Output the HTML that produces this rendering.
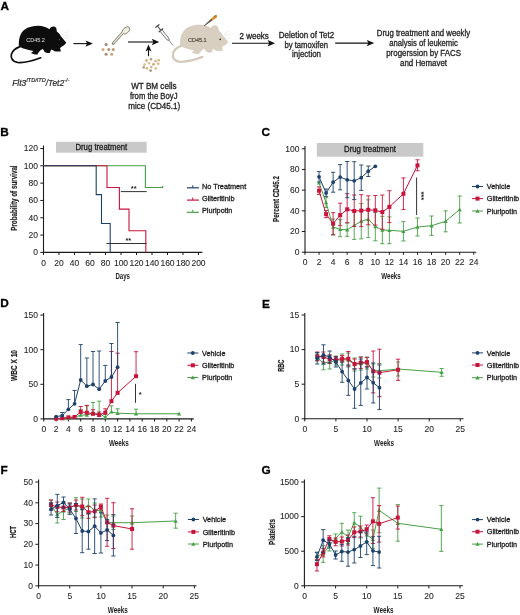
<!DOCTYPE html>
<html><head><meta charset="utf-8"><style>
html,body{margin:0;padding:0;background:#fff;}
svg{display:block;font-family:"Liberation Sans", sans-serif;will-change:transform;filter:blur(0.35px);}
</style></head><body>
<svg width="520" height="615" viewBox="0 0 520 615">
<rect width="520" height="615" fill="#fff"/>
<text x="0.6" y="9.8" font-size="11.8" fill="#000" font-weight="bold" stroke="#000" stroke-width="0.3">A</text>
<text x="0.2" y="136.2" font-size="11.8" fill="#000" font-weight="bold" stroke="#000" stroke-width="0.3">B</text>
<text x="261.4" y="136.4" font-size="11.8" fill="#000" font-weight="bold" stroke="#000" stroke-width="0.3">C</text>
<text x="0.2" y="307.3" font-size="11.8" fill="#000" font-weight="bold" stroke="#000" stroke-width="0.3">D</text>
<text x="262.1" y="307.5" font-size="11.8" fill="#000" font-weight="bold" stroke="#000" stroke-width="0.3">E</text>
<text x="0.5" y="473.7" font-size="11.8" fill="#000" font-weight="bold" stroke="#000" stroke-width="0.3">F</text>
<text x="261.4" y="474.1" font-size="11.8" fill="#000" font-weight="bold" stroke="#000" stroke-width="0.3">G</text>
<rect x="56" y="141.8" width="90.7" height="10.9" fill="#c9c9c9"/>
<text x="101.3" y="149.6" font-size="8.3" text-anchor="middle" fill="#1e1e1e" font-weight="normal" textLength="51.8" lengthAdjust="spacingAndGlyphs" stroke="#1e1e1e" stroke-width="0.3"  style="">Drug treatment</text>
<line x1="43.5" y1="145.5" x2="43.5" y2="252.9" stroke="#1a1a1a" stroke-width="1.1" />
<line x1="40.3" y1="252.4" x2="43.5" y2="252.4" stroke="#1a1a1a" stroke-width="1" />
<text x="37.9" y="255.20000000000002" font-size="8.5" text-anchor="end" fill="#1e1e1e" font-weight="normal" stroke="#1e1e1e" stroke-width="0.08"  style="">0</text>
<line x1="40.3" y1="235.084" x2="43.5" y2="235.084" stroke="#1a1a1a" stroke-width="1" />
<text x="37.9" y="237.88400000000001" font-size="8.5" text-anchor="end" fill="#1e1e1e" font-weight="normal" stroke="#1e1e1e" stroke-width="0.08"  style="">20</text>
<line x1="40.3" y1="217.768" x2="43.5" y2="217.768" stroke="#1a1a1a" stroke-width="1" />
<text x="37.9" y="220.568" font-size="8.5" text-anchor="end" fill="#1e1e1e" font-weight="normal" stroke="#1e1e1e" stroke-width="0.08"  style="">40</text>
<line x1="40.3" y1="200.452" x2="43.5" y2="200.452" stroke="#1a1a1a" stroke-width="1" />
<text x="37.9" y="203.252" font-size="8.5" text-anchor="end" fill="#1e1e1e" font-weight="normal" stroke="#1e1e1e" stroke-width="0.08"  style="">60</text>
<line x1="40.3" y1="183.13600000000002" x2="43.5" y2="183.13600000000002" stroke="#1a1a1a" stroke-width="1" />
<text x="37.9" y="185.93600000000004" font-size="8.5" text-anchor="end" fill="#1e1e1e" font-weight="normal" stroke="#1e1e1e" stroke-width="0.08"  style="">80</text>
<line x1="40.3" y1="165.82" x2="43.5" y2="165.82" stroke="#1a1a1a" stroke-width="1" />
<text x="37.9" y="168.62" font-size="8.5" text-anchor="end" fill="#1e1e1e" font-weight="normal" stroke="#1e1e1e" stroke-width="0.08"  style="">100</text>
<line x1="40.3" y1="148.50400000000002" x2="43.5" y2="148.50400000000002" stroke="#1a1a1a" stroke-width="1" />
<text x="37.9" y="151.30400000000003" font-size="8.5" text-anchor="end" fill="#1e1e1e" font-weight="normal" stroke="#1e1e1e" stroke-width="0.08"  style="">120</text>
<line x1="43.0" y1="252.4" x2="202.4" y2="252.4" stroke="#1a1a1a" stroke-width="1.1" />
<line x1="43.5" y1="252.4" x2="43.5" y2="255.0" stroke="#1a1a1a" stroke-width="1" />
<text x="43.5" y="265.6" font-size="8.5" text-anchor="middle" fill="#1e1e1e" font-weight="normal" stroke="#1e1e1e" stroke-width="0.08"  style="">0</text>
<line x1="59.0" y1="252.4" x2="59.0" y2="255.0" stroke="#1a1a1a" stroke-width="1" />
<text x="59.0" y="265.6" font-size="8.5" text-anchor="middle" fill="#1e1e1e" font-weight="normal" stroke="#1e1e1e" stroke-width="0.08"  style="">20</text>
<line x1="74.5" y1="252.4" x2="74.5" y2="255.0" stroke="#1a1a1a" stroke-width="1" />
<text x="74.5" y="265.6" font-size="8.5" text-anchor="middle" fill="#1e1e1e" font-weight="normal" stroke="#1e1e1e" stroke-width="0.08"  style="">40</text>
<line x1="90.0" y1="252.4" x2="90.0" y2="255.0" stroke="#1a1a1a" stroke-width="1" />
<text x="90.0" y="265.6" font-size="8.5" text-anchor="middle" fill="#1e1e1e" font-weight="normal" stroke="#1e1e1e" stroke-width="0.08"  style="">60</text>
<line x1="105.5" y1="252.4" x2="105.5" y2="255.0" stroke="#1a1a1a" stroke-width="1" />
<text x="105.5" y="265.6" font-size="8.5" text-anchor="middle" fill="#1e1e1e" font-weight="normal" stroke="#1e1e1e" stroke-width="0.08"  style="">80</text>
<line x1="121.0" y1="252.4" x2="121.0" y2="255.0" stroke="#1a1a1a" stroke-width="1" />
<text x="121.0" y="265.6" font-size="8.5" text-anchor="middle" fill="#1e1e1e" font-weight="normal" stroke="#1e1e1e" stroke-width="0.08"  style="">100</text>
<line x1="136.5" y1="252.4" x2="136.5" y2="255.0" stroke="#1a1a1a" stroke-width="1" />
<text x="136.5" y="265.6" font-size="8.5" text-anchor="middle" fill="#1e1e1e" font-weight="normal" stroke="#1e1e1e" stroke-width="0.08"  style="">120</text>
<line x1="152.0" y1="252.4" x2="152.0" y2="255.0" stroke="#1a1a1a" stroke-width="1" />
<text x="152.0" y="265.6" font-size="8.5" text-anchor="middle" fill="#1e1e1e" font-weight="normal" stroke="#1e1e1e" stroke-width="0.08"  style="">140</text>
<line x1="167.5" y1="252.4" x2="167.5" y2="255.0" stroke="#1a1a1a" stroke-width="1" />
<text x="167.5" y="265.6" font-size="8.5" text-anchor="middle" fill="#1e1e1e" font-weight="normal" stroke="#1e1e1e" stroke-width="0.08"  style="">160</text>
<line x1="183.0" y1="252.4" x2="183.0" y2="255.0" stroke="#1a1a1a" stroke-width="1" />
<text x="183.0" y="265.6" font-size="8.5" text-anchor="middle" fill="#1e1e1e" font-weight="normal" stroke="#1e1e1e" stroke-width="0.08"  style="">180</text>
<line x1="198.5" y1="252.4" x2="198.5" y2="255.0" stroke="#1a1a1a" stroke-width="1" />
<text x="198.5" y="265.6" font-size="8.5" text-anchor="middle" fill="#1e1e1e" font-weight="normal" stroke="#1e1e1e" stroke-width="0.08"  style="">200</text>
<text transform="translate(16.7,198.1) rotate(-90)" x="0" y="0" font-size="9.3" text-anchor="middle" fill="#1e1e1e" font-weight="bold" stroke="#1e1e1e" stroke-width="0.2" textLength="65.4" lengthAdjust="spacingAndGlyphs">Probability of survival</text>
<text x="122.7" y="278.6" font-size="9.3" text-anchor="middle" fill="#1e1e1e" font-weight="bold" textLength="14.6" lengthAdjust="spacingAndGlyphs"  style="">Days</text>
<polyline points="43.50,165.82 145.40,165.82 145.40,187.47 162.70,187.47 162.70,186.06" fill="none" stroke="#46a046" stroke-width="1.1" stroke-linejoin="miter"/>
<polyline points="43.50,165.82 107.00,165.82 107.00,187.47 119.40,187.47 119.40,209.11 129.00,209.11 129.00,230.75 145.80,230.75 145.80,252.40" fill="none" stroke="#c8143c" stroke-width="1.1" stroke-linejoin="miter"/>
<polyline points="43.50,165.82 96.20,165.82 96.20,194.65 101.50,194.65 101.50,223.57 110.20,223.57 110.20,252.40" fill="none" stroke="#1d426c" stroke-width="1.1" stroke-linejoin="miter"/>
<line x1="120.8" y1="191.6" x2="146.7" y2="191.6" stroke="#333" stroke-width="1" />
<text x="133.7" y="191.0" font-size="7.5" text-anchor="middle" fill="#1e1e1e" font-weight="bold"  style="">**</text>
<line x1="106.5" y1="243.5" x2="146.7" y2="243.5" stroke="#333" stroke-width="1" />
<text x="128.3" y="243.2" font-size="7.5" text-anchor="middle" fill="#1e1e1e" font-weight="bold"  style="">**</text>
<line x1="187" y1="187.8" x2="198.9" y2="187.8" stroke="#1d426c" stroke-width="1.2" />
<line x1="192.8" y1="187.8" x2="192.8" y2="185.20000000000002" stroke="#1d426c" stroke-width="1" />
<text x="202" y="188.9" font-size="7.3" text-anchor="start" fill="#1e1e1e" font-weight="normal" stroke="#1e1e1e" stroke-width="0.3"  style="">No Treatment</text>
<line x1="187" y1="200.1" x2="198.9" y2="200.1" stroke="#c8143c" stroke-width="1.2" />
<line x1="192.8" y1="200.1" x2="192.8" y2="197.5" stroke="#c8143c" stroke-width="1" />
<text x="202" y="201.2" font-size="7.3" text-anchor="start" fill="#1e1e1e" font-weight="normal" stroke="#1e1e1e" stroke-width="0.3"  style="">Gilteritinib</text>
<line x1="187" y1="212.3" x2="198.9" y2="212.3" stroke="#46a046" stroke-width="1.2" />
<line x1="192.8" y1="212.3" x2="192.8" y2="209.70000000000002" stroke="#46a046" stroke-width="1" />
<text x="202" y="213.4" font-size="7.3" text-anchor="start" fill="#1e1e1e" font-weight="normal" stroke="#1e1e1e" stroke-width="0.3"  style="">Pluripotin</text>
<rect x="316.8" y="143" width="106.5" height="13.7" fill="#c9c9c9"/>
<text x="370" y="152.3" font-size="8.3" text-anchor="middle" fill="#1e1e1e" font-weight="normal" textLength="51.9" lengthAdjust="spacingAndGlyphs" stroke="#1e1e1e" stroke-width="0.3"  style="">Drug treatment</text>
<line x1="305" y1="146" x2="305" y2="252.7" stroke="#1a1a1a" stroke-width="1.1" />
<line x1="301.8" y1="252.2" x2="305" y2="252.2" stroke="#1a1a1a" stroke-width="1" />
<text x="299.4" y="255.0" font-size="8.5" text-anchor="end" fill="#1e1e1e" font-weight="normal" stroke="#1e1e1e" stroke-width="0.08"  style="">0</text>
<line x1="301.8" y1="231.51" x2="305" y2="231.51" stroke="#1a1a1a" stroke-width="1" />
<text x="299.4" y="234.31" font-size="8.5" text-anchor="end" fill="#1e1e1e" font-weight="normal" stroke="#1e1e1e" stroke-width="0.08"  style="">20</text>
<line x1="301.8" y1="210.82" x2="305" y2="210.82" stroke="#1a1a1a" stroke-width="1" />
<text x="299.4" y="213.62" font-size="8.5" text-anchor="end" fill="#1e1e1e" font-weight="normal" stroke="#1e1e1e" stroke-width="0.08"  style="">40</text>
<line x1="301.8" y1="190.13" x2="305" y2="190.13" stroke="#1a1a1a" stroke-width="1" />
<text x="299.4" y="192.93" font-size="8.5" text-anchor="end" fill="#1e1e1e" font-weight="normal" stroke="#1e1e1e" stroke-width="0.08"  style="">60</text>
<line x1="301.8" y1="169.44" x2="305" y2="169.44" stroke="#1a1a1a" stroke-width="1" />
<text x="299.4" y="172.24" font-size="8.5" text-anchor="end" fill="#1e1e1e" font-weight="normal" stroke="#1e1e1e" stroke-width="0.08"  style="">80</text>
<line x1="301.8" y1="148.75" x2="305" y2="148.75" stroke="#1a1a1a" stroke-width="1" />
<text x="299.4" y="151.55" font-size="8.5" text-anchor="end" fill="#1e1e1e" font-weight="normal" stroke="#1e1e1e" stroke-width="0.08"  style="">100</text>
<line x1="304.5" y1="252.2" x2="476.3" y2="252.2" stroke="#1a1a1a" stroke-width="1.1" />
<line x1="305.0" y1="252.2" x2="305.0" y2="254.79999999999998" stroke="#1a1a1a" stroke-width="1" />
<text x="305.0" y="265.4" font-size="8.5" text-anchor="middle" fill="#1e1e1e" font-weight="normal" stroke="#1e1e1e" stroke-width="0.08"  style="">0</text>
<line x1="319.06" y1="252.2" x2="319.06" y2="254.79999999999998" stroke="#1a1a1a" stroke-width="1" />
<text x="319.06" y="265.4" font-size="8.5" text-anchor="middle" fill="#1e1e1e" font-weight="normal" stroke="#1e1e1e" stroke-width="0.08"  style="">2</text>
<line x1="333.12" y1="252.2" x2="333.12" y2="254.79999999999998" stroke="#1a1a1a" stroke-width="1" />
<text x="333.12" y="265.4" font-size="8.5" text-anchor="middle" fill="#1e1e1e" font-weight="normal" stroke="#1e1e1e" stroke-width="0.08"  style="">4</text>
<line x1="347.18" y1="252.2" x2="347.18" y2="254.79999999999998" stroke="#1a1a1a" stroke-width="1" />
<text x="347.18" y="265.4" font-size="8.5" text-anchor="middle" fill="#1e1e1e" font-weight="normal" stroke="#1e1e1e" stroke-width="0.08"  style="">6</text>
<line x1="361.24" y1="252.2" x2="361.24" y2="254.79999999999998" stroke="#1a1a1a" stroke-width="1" />
<text x="361.24" y="265.4" font-size="8.5" text-anchor="middle" fill="#1e1e1e" font-weight="normal" stroke="#1e1e1e" stroke-width="0.08"  style="">8</text>
<line x1="375.3" y1="252.2" x2="375.3" y2="254.79999999999998" stroke="#1a1a1a" stroke-width="1" />
<text x="375.3" y="265.4" font-size="8.5" text-anchor="middle" fill="#1e1e1e" font-weight="normal" stroke="#1e1e1e" stroke-width="0.08"  style="">10</text>
<line x1="389.36" y1="252.2" x2="389.36" y2="254.79999999999998" stroke="#1a1a1a" stroke-width="1" />
<text x="389.36" y="265.4" font-size="8.5" text-anchor="middle" fill="#1e1e1e" font-weight="normal" stroke="#1e1e1e" stroke-width="0.08"  style="">12</text>
<line x1="403.42" y1="252.2" x2="403.42" y2="254.79999999999998" stroke="#1a1a1a" stroke-width="1" />
<text x="403.42" y="265.4" font-size="8.5" text-anchor="middle" fill="#1e1e1e" font-weight="normal" stroke="#1e1e1e" stroke-width="0.08"  style="">14</text>
<line x1="417.48" y1="252.2" x2="417.48" y2="254.79999999999998" stroke="#1a1a1a" stroke-width="1" />
<text x="417.48" y="265.4" font-size="8.5" text-anchor="middle" fill="#1e1e1e" font-weight="normal" stroke="#1e1e1e" stroke-width="0.08"  style="">16</text>
<line x1="431.54" y1="252.2" x2="431.54" y2="254.79999999999998" stroke="#1a1a1a" stroke-width="1" />
<text x="431.54" y="265.4" font-size="8.5" text-anchor="middle" fill="#1e1e1e" font-weight="normal" stroke="#1e1e1e" stroke-width="0.08"  style="">18</text>
<line x1="445.6" y1="252.2" x2="445.6" y2="254.79999999999998" stroke="#1a1a1a" stroke-width="1" />
<text x="445.6" y="265.4" font-size="8.5" text-anchor="middle" fill="#1e1e1e" font-weight="normal" stroke="#1e1e1e" stroke-width="0.08"  style="">20</text>
<line x1="459.65999999999997" y1="252.2" x2="459.65999999999997" y2="254.79999999999998" stroke="#1a1a1a" stroke-width="1" />
<text x="459.65999999999997" y="265.4" font-size="8.5" text-anchor="middle" fill="#1e1e1e" font-weight="normal" stroke="#1e1e1e" stroke-width="0.08"  style="">22</text>
<line x1="473.72" y1="252.2" x2="473.72" y2="254.79999999999998" stroke="#1a1a1a" stroke-width="1" />
<text x="473.72" y="265.4" font-size="8.5" text-anchor="middle" fill="#1e1e1e" font-weight="normal" stroke="#1e1e1e" stroke-width="0.08"  style="">24</text>
<text transform="translate(279.3,199.0) rotate(-90)" x="0" y="0" font-size="9.3" text-anchor="middle" fill="#1e1e1e" font-weight="bold" stroke="#1e1e1e" stroke-width="0.2" textLength="45.9" lengthAdjust="spacingAndGlyphs">Percent CD45.2</text>
<text x="391" y="279.2" font-size="9.3" text-anchor="middle" fill="#1e1e1e" font-weight="bold" textLength="19.6" lengthAdjust="spacingAndGlyphs"  style="">Weeks</text>
<line x1="326.09" y1="197.70" x2="326.09" y2="207.50" stroke="#46a046" stroke-width="0.9" />
<line x1="323.99" y1="197.70" x2="328.19" y2="197.70" stroke="#46a046" stroke-width="0.9" />
<line x1="323.99" y1="207.50" x2="328.19" y2="207.50" stroke="#46a046" stroke-width="0.9" />
<line x1="333.12" y1="219.00" x2="333.12" y2="235.00" stroke="#46a046" stroke-width="0.9" />
<line x1="331.02" y1="219.00" x2="335.22" y2="219.00" stroke="#46a046" stroke-width="0.9" />
<line x1="331.02" y1="235.00" x2="335.22" y2="235.00" stroke="#46a046" stroke-width="0.9" />
<line x1="340.15" y1="219.60" x2="340.15" y2="236.70" stroke="#46a046" stroke-width="0.9" />
<line x1="338.05" y1="219.60" x2="342.25" y2="219.60" stroke="#46a046" stroke-width="0.9" />
<line x1="338.05" y1="236.70" x2="342.25" y2="236.70" stroke="#46a046" stroke-width="0.9" />
<line x1="347.18" y1="223.00" x2="347.18" y2="236.30" stroke="#46a046" stroke-width="0.9" />
<line x1="345.08" y1="223.00" x2="349.28" y2="223.00" stroke="#46a046" stroke-width="0.9" />
<line x1="345.08" y1="236.30" x2="349.28" y2="236.30" stroke="#46a046" stroke-width="0.9" />
<line x1="354.21" y1="211.00" x2="354.21" y2="239.40" stroke="#46a046" stroke-width="0.9" />
<line x1="352.11" y1="211.00" x2="356.31" y2="211.00" stroke="#46a046" stroke-width="0.9" />
<line x1="352.11" y1="239.40" x2="356.31" y2="239.40" stroke="#46a046" stroke-width="0.9" />
<line x1="361.24" y1="203.60" x2="361.24" y2="238.80" stroke="#46a046" stroke-width="0.9" />
<line x1="359.14" y1="203.60" x2="363.34" y2="203.60" stroke="#46a046" stroke-width="0.9" />
<line x1="359.14" y1="238.80" x2="363.34" y2="238.80" stroke="#46a046" stroke-width="0.9" />
<line x1="368.27" y1="199.80" x2="368.27" y2="237.60" stroke="#46a046" stroke-width="0.9" />
<line x1="366.17" y1="199.80" x2="370.37" y2="199.80" stroke="#46a046" stroke-width="0.9" />
<line x1="366.17" y1="237.60" x2="370.37" y2="237.60" stroke="#46a046" stroke-width="0.9" />
<line x1="375.30" y1="212.40" x2="375.30" y2="240.80" stroke="#46a046" stroke-width="0.9" />
<line x1="373.20" y1="212.40" x2="377.40" y2="212.40" stroke="#46a046" stroke-width="0.9" />
<line x1="373.20" y1="240.80" x2="377.40" y2="240.80" stroke="#46a046" stroke-width="0.9" />
<line x1="382.33" y1="216.30" x2="382.33" y2="243.70" stroke="#46a046" stroke-width="0.9" />
<line x1="380.23" y1="216.30" x2="384.43" y2="216.30" stroke="#46a046" stroke-width="0.9" />
<line x1="380.23" y1="243.70" x2="384.43" y2="243.70" stroke="#46a046" stroke-width="0.9" />
<line x1="389.36" y1="216.90" x2="389.36" y2="243.70" stroke="#46a046" stroke-width="0.9" />
<line x1="387.26" y1="216.90" x2="391.46" y2="216.90" stroke="#46a046" stroke-width="0.9" />
<line x1="387.26" y1="243.70" x2="391.46" y2="243.70" stroke="#46a046" stroke-width="0.9" />
<line x1="403.42" y1="221.60" x2="403.42" y2="241.00" stroke="#46a046" stroke-width="0.9" />
<line x1="401.32" y1="221.60" x2="405.52" y2="221.60" stroke="#46a046" stroke-width="0.9" />
<line x1="401.32" y1="241.00" x2="405.52" y2="241.00" stroke="#46a046" stroke-width="0.9" />
<line x1="417.48" y1="218.00" x2="417.48" y2="236.00" stroke="#46a046" stroke-width="0.9" />
<line x1="415.38" y1="218.00" x2="419.58" y2="218.00" stroke="#46a046" stroke-width="0.9" />
<line x1="415.38" y1="236.00" x2="419.58" y2="236.00" stroke="#46a046" stroke-width="0.9" />
<line x1="431.54" y1="216.00" x2="431.54" y2="235.40" stroke="#46a046" stroke-width="0.9" />
<line x1="429.44" y1="216.00" x2="433.64" y2="216.00" stroke="#46a046" stroke-width="0.9" />
<line x1="429.44" y1="235.40" x2="433.64" y2="235.40" stroke="#46a046" stroke-width="0.9" />
<line x1="445.60" y1="210.80" x2="445.60" y2="231.80" stroke="#46a046" stroke-width="0.9" />
<line x1="443.50" y1="210.80" x2="447.70" y2="210.80" stroke="#46a046" stroke-width="0.9" />
<line x1="443.50" y1="231.80" x2="447.70" y2="231.80" stroke="#46a046" stroke-width="0.9" />
<line x1="459.66" y1="196.00" x2="459.66" y2="223.00" stroke="#46a046" stroke-width="0.9" />
<line x1="457.56" y1="196.00" x2="461.76" y2="196.00" stroke="#46a046" stroke-width="0.9" />
<line x1="457.56" y1="223.00" x2="461.76" y2="223.00" stroke="#46a046" stroke-width="0.9" />
<polyline points="319.06,182.90 326.09,202.60 333.12,227.00 340.15,229.40 347.18,229.80 354.21,225.40 361.24,221.20 368.27,219.20 375.30,226.60 382.33,230.00 389.36,230.30 403.42,231.30 417.48,227.00 431.54,225.70 445.60,221.30 459.66,209.50" fill="none" stroke="#46a046" stroke-width="1.0" stroke-linejoin="miter"/>
<polygon points="319.06,180.80 321.16,184.58 316.96,184.58" fill="#46a046"/>
<polygon points="326.09,200.50 328.19,204.28 323.99,204.28" fill="#46a046"/>
<polygon points="333.12,224.90 335.22,228.68 331.02,228.68" fill="#46a046"/>
<polygon points="340.15,227.30 342.25,231.08 338.05,231.08" fill="#46a046"/>
<polygon points="347.18,227.70 349.28,231.48 345.08,231.48" fill="#46a046"/>
<polygon points="354.21,223.30 356.31,227.08 352.11,227.08" fill="#46a046"/>
<polygon points="361.24,219.10 363.34,222.88 359.14,222.88" fill="#46a046"/>
<polygon points="368.27,217.10 370.37,220.88 366.17,220.88" fill="#46a046"/>
<polygon points="375.30,224.50 377.40,228.28 373.20,228.28" fill="#46a046"/>
<polygon points="382.33,227.90 384.43,231.68 380.23,231.68" fill="#46a046"/>
<polygon points="389.36,228.20 391.46,231.98 387.26,231.98" fill="#46a046"/>
<polygon points="403.42,229.20 405.52,232.98 401.32,232.98" fill="#46a046"/>
<polygon points="417.48,224.90 419.58,228.68 415.38,228.68" fill="#46a046"/>
<polygon points="431.54,223.60 433.64,227.38 429.44,227.38" fill="#46a046"/>
<polygon points="445.60,219.20 447.70,222.98 443.50,222.98" fill="#46a046"/>
<polygon points="459.66,207.40 461.76,211.18 457.56,211.18" fill="#46a046"/>
<line x1="319.06" y1="186.80" x2="319.06" y2="194.60" stroke="#c8143c" stroke-width="0.9" />
<line x1="316.96" y1="186.80" x2="321.16" y2="186.80" stroke="#c8143c" stroke-width="0.9" />
<line x1="316.96" y1="194.60" x2="321.16" y2="194.60" stroke="#c8143c" stroke-width="0.9" />
<line x1="326.09" y1="210.50" x2="326.09" y2="217.70" stroke="#c8143c" stroke-width="0.9" />
<line x1="323.99" y1="210.50" x2="328.19" y2="210.50" stroke="#c8143c" stroke-width="0.9" />
<line x1="323.99" y1="217.70" x2="328.19" y2="217.70" stroke="#c8143c" stroke-width="0.9" />
<line x1="333.12" y1="212.70" x2="333.12" y2="234.70" stroke="#c8143c" stroke-width="0.9" />
<line x1="331.02" y1="212.70" x2="335.22" y2="212.70" stroke="#c8143c" stroke-width="0.9" />
<line x1="331.02" y1="234.70" x2="335.22" y2="234.70" stroke="#c8143c" stroke-width="0.9" />
<line x1="340.15" y1="203.20" x2="340.15" y2="225.70" stroke="#c8143c" stroke-width="0.9" />
<line x1="338.05" y1="203.20" x2="342.25" y2="203.20" stroke="#c8143c" stroke-width="0.9" />
<line x1="338.05" y1="225.70" x2="342.25" y2="225.70" stroke="#c8143c" stroke-width="0.9" />
<line x1="347.18" y1="193.70" x2="347.18" y2="222.70" stroke="#c8143c" stroke-width="0.9" />
<line x1="345.08" y1="193.70" x2="349.28" y2="193.70" stroke="#c8143c" stroke-width="0.9" />
<line x1="345.08" y1="222.70" x2="349.28" y2="222.70" stroke="#c8143c" stroke-width="0.9" />
<line x1="354.21" y1="195.00" x2="354.21" y2="226.30" stroke="#c8143c" stroke-width="0.9" />
<line x1="352.11" y1="195.00" x2="356.31" y2="195.00" stroke="#c8143c" stroke-width="0.9" />
<line x1="352.11" y1="226.30" x2="356.31" y2="226.30" stroke="#c8143c" stroke-width="0.9" />
<line x1="361.24" y1="194.70" x2="361.24" y2="226.60" stroke="#c8143c" stroke-width="0.9" />
<line x1="359.14" y1="194.70" x2="363.34" y2="194.70" stroke="#c8143c" stroke-width="0.9" />
<line x1="359.14" y1="226.60" x2="363.34" y2="226.60" stroke="#c8143c" stroke-width="0.9" />
<line x1="368.27" y1="195.80" x2="368.27" y2="224.80" stroke="#c8143c" stroke-width="0.9" />
<line x1="366.17" y1="195.80" x2="370.37" y2="195.80" stroke="#c8143c" stroke-width="0.9" />
<line x1="366.17" y1="224.80" x2="370.37" y2="224.80" stroke="#c8143c" stroke-width="0.9" />
<line x1="375.30" y1="195.50" x2="375.30" y2="225.10" stroke="#c8143c" stroke-width="0.9" />
<line x1="373.20" y1="195.50" x2="377.40" y2="195.50" stroke="#c8143c" stroke-width="0.9" />
<line x1="373.20" y1="225.10" x2="377.40" y2="225.10" stroke="#c8143c" stroke-width="0.9" />
<line x1="382.33" y1="195.00" x2="382.33" y2="229.20" stroke="#c8143c" stroke-width="0.9" />
<line x1="380.23" y1="195.00" x2="384.43" y2="195.00" stroke="#c8143c" stroke-width="0.9" />
<line x1="380.23" y1="229.20" x2="384.43" y2="229.20" stroke="#c8143c" stroke-width="0.9" />
<line x1="389.36" y1="190.70" x2="389.36" y2="222.60" stroke="#c8143c" stroke-width="0.9" />
<line x1="387.26" y1="190.70" x2="391.46" y2="190.70" stroke="#c8143c" stroke-width="0.9" />
<line x1="387.26" y1="222.60" x2="391.46" y2="222.60" stroke="#c8143c" stroke-width="0.9" />
<line x1="403.42" y1="177.90" x2="403.42" y2="209.60" stroke="#c8143c" stroke-width="0.9" />
<line x1="401.32" y1="177.90" x2="405.52" y2="177.90" stroke="#c8143c" stroke-width="0.9" />
<line x1="401.32" y1="209.60" x2="405.52" y2="209.60" stroke="#c8143c" stroke-width="0.9" />
<line x1="417.48" y1="159.80" x2="417.48" y2="170.80" stroke="#c8143c" stroke-width="0.9" />
<line x1="415.38" y1="159.80" x2="419.58" y2="159.80" stroke="#c8143c" stroke-width="0.9" />
<line x1="415.38" y1="170.80" x2="419.58" y2="170.80" stroke="#c8143c" stroke-width="0.9" />
<polyline points="319.06,190.70 326.09,214.10 333.12,223.70 340.15,215.10 347.18,209.30 354.21,211.00 361.24,210.60 368.27,209.80 375.30,210.30 382.33,212.10 389.36,206.90 403.42,193.80 417.48,165.40" fill="none" stroke="#c8143c" stroke-width="1.0" stroke-linejoin="miter"/>
<rect x="317.06" y="188.70" width="4.00" height="4.00" fill="#c8143c"/>
<rect x="324.09" y="212.10" width="4.00" height="4.00" fill="#c8143c"/>
<rect x="331.12" y="221.70" width="4.00" height="4.00" fill="#c8143c"/>
<rect x="338.15" y="213.10" width="4.00" height="4.00" fill="#c8143c"/>
<rect x="345.18" y="207.30" width="4.00" height="4.00" fill="#c8143c"/>
<rect x="352.21" y="209.00" width="4.00" height="4.00" fill="#c8143c"/>
<rect x="359.24" y="208.60" width="4.00" height="4.00" fill="#c8143c"/>
<rect x="366.27" y="207.80" width="4.00" height="4.00" fill="#c8143c"/>
<rect x="373.30" y="208.30" width="4.00" height="4.00" fill="#c8143c"/>
<rect x="380.33" y="210.10" width="4.00" height="4.00" fill="#c8143c"/>
<rect x="387.36" y="204.90" width="4.00" height="4.00" fill="#c8143c"/>
<rect x="401.42" y="191.80" width="4.00" height="4.00" fill="#c8143c"/>
<rect x="415.48" y="163.40" width="4.00" height="4.00" fill="#c8143c"/>
<line x1="319.06" y1="171.60" x2="319.06" y2="182.00" stroke="#1d426c" stroke-width="0.9" />
<line x1="316.96" y1="171.60" x2="321.16" y2="171.60" stroke="#1d426c" stroke-width="0.9" />
<line x1="316.96" y1="182.00" x2="321.16" y2="182.00" stroke="#1d426c" stroke-width="0.9" />
<line x1="326.09" y1="189.00" x2="326.09" y2="196.40" stroke="#1d426c" stroke-width="0.9" />
<line x1="323.99" y1="189.00" x2="328.19" y2="189.00" stroke="#1d426c" stroke-width="0.9" />
<line x1="323.99" y1="196.40" x2="328.19" y2="196.40" stroke="#1d426c" stroke-width="0.9" />
<line x1="333.12" y1="172.30" x2="333.12" y2="192.20" stroke="#1d426c" stroke-width="0.9" />
<line x1="331.02" y1="172.30" x2="335.22" y2="172.30" stroke="#1d426c" stroke-width="0.9" />
<line x1="331.02" y1="192.20" x2="335.22" y2="192.20" stroke="#1d426c" stroke-width="0.9" />
<line x1="340.15" y1="164.60" x2="340.15" y2="189.80" stroke="#1d426c" stroke-width="0.9" />
<line x1="338.05" y1="164.60" x2="342.25" y2="164.60" stroke="#1d426c" stroke-width="0.9" />
<line x1="338.05" y1="189.80" x2="342.25" y2="189.80" stroke="#1d426c" stroke-width="0.9" />
<line x1="347.18" y1="161.50" x2="347.18" y2="197.70" stroke="#1d426c" stroke-width="0.9" />
<line x1="345.08" y1="161.50" x2="349.28" y2="161.50" stroke="#1d426c" stroke-width="0.9" />
<line x1="345.08" y1="197.70" x2="349.28" y2="197.70" stroke="#1d426c" stroke-width="0.9" />
<line x1="354.21" y1="161.70" x2="354.21" y2="199.60" stroke="#1d426c" stroke-width="0.9" />
<line x1="352.11" y1="161.70" x2="356.31" y2="161.70" stroke="#1d426c" stroke-width="0.9" />
<line x1="352.11" y1="199.60" x2="356.31" y2="199.60" stroke="#1d426c" stroke-width="0.9" />
<line x1="361.24" y1="165.00" x2="361.24" y2="190.40" stroke="#1d426c" stroke-width="0.9" />
<line x1="359.14" y1="165.00" x2="363.34" y2="165.00" stroke="#1d426c" stroke-width="0.9" />
<line x1="359.14" y1="190.40" x2="363.34" y2="190.40" stroke="#1d426c" stroke-width="0.9" />
<line x1="368.27" y1="166.00" x2="368.27" y2="176.50" stroke="#1d426c" stroke-width="0.9" />
<line x1="366.17" y1="166.00" x2="370.37" y2="166.00" stroke="#1d426c" stroke-width="0.9" />
<line x1="366.17" y1="176.50" x2="370.37" y2="176.50" stroke="#1d426c" stroke-width="0.9" />
<polyline points="319.06,176.80 326.09,193.00 333.12,182.20 340.15,177.10 347.18,179.80 354.21,180.80 361.24,177.70 368.27,171.20 375.30,166.30" fill="none" stroke="#1d426c" stroke-width="1.0" stroke-linejoin="miter"/>
<circle cx="319.06" cy="176.80" r="1.90" fill="#1d426c"/>
<circle cx="326.09" cy="193.00" r="1.90" fill="#1d426c"/>
<circle cx="333.12" cy="182.20" r="1.90" fill="#1d426c"/>
<circle cx="340.15" cy="177.10" r="1.90" fill="#1d426c"/>
<circle cx="347.18" cy="179.80" r="1.90" fill="#1d426c"/>
<circle cx="354.21" cy="180.80" r="1.90" fill="#1d426c"/>
<circle cx="361.24" cy="177.70" r="1.90" fill="#1d426c"/>
<circle cx="368.27" cy="171.20" r="1.90" fill="#1d426c"/>
<circle cx="375.30" cy="166.30" r="1.90" fill="#1d426c"/>
<line x1="416.6" y1="177.5" x2="416.6" y2="215" stroke="#333" stroke-width="1" />
<text x="0" y="0" transform="translate(419.4,195.8) rotate(90)" font-size="7.5" text-anchor="middle" fill="#1e1e1e" font-weight="bold">***</text>
<line x1="472" y1="186.5" x2="483" y2="186.5" stroke="#1d426c" stroke-width="1" />
<circle cx="477.50" cy="186.50" r="1.90" fill="#1d426c"/>
<text x="486.8" y="189.1" font-size="7.25" text-anchor="start" fill="#1e1e1e" font-weight="normal" stroke="#1e1e1e" stroke-width="0.3"  style="">Vehicle</text>
<line x1="472" y1="198.6" x2="483" y2="198.6" stroke="#c8143c" stroke-width="1" />
<rect x="475.50" y="196.60" width="4.00" height="4.00" fill="#c8143c"/>
<text x="486.8" y="201.2" font-size="7.25" text-anchor="start" fill="#1e1e1e" font-weight="normal" stroke="#1e1e1e" stroke-width="0.3"  style="">Gilteritinib</text>
<line x1="472" y1="211" x2="483" y2="211" stroke="#46a046" stroke-width="1" />
<polygon points="477.50,208.90 479.60,212.68 475.40,212.68" fill="#46a046"/>
<text x="486.8" y="213.6" font-size="7.25" text-anchor="start" fill="#1e1e1e" font-weight="normal" stroke="#1e1e1e" stroke-width="0.3"  style="">Pluripotin</text>
<line x1="43.6" y1="313.1" x2="43.6" y2="419.4" stroke="#1a1a1a" stroke-width="1.1" />
<line x1="40.4" y1="418.9" x2="43.6" y2="418.9" stroke="#1a1a1a" stroke-width="1" />
<text x="38.0" y="421.7" font-size="8.5" text-anchor="end" fill="#1e1e1e" font-weight="normal" stroke="#1e1e1e" stroke-width="0.08"  style="">0</text>
<line x1="40.4" y1="384.29999999999995" x2="43.6" y2="384.29999999999995" stroke="#1a1a1a" stroke-width="1" />
<text x="38.0" y="387.09999999999997" font-size="8.5" text-anchor="end" fill="#1e1e1e" font-weight="normal" stroke="#1e1e1e" stroke-width="0.08"  style="">50</text>
<line x1="40.4" y1="349.7" x2="43.6" y2="349.7" stroke="#1a1a1a" stroke-width="1" />
<text x="38.0" y="352.5" font-size="8.5" text-anchor="end" fill="#1e1e1e" font-weight="normal" stroke="#1e1e1e" stroke-width="0.08"  style="">100</text>
<line x1="40.4" y1="315.09999999999997" x2="43.6" y2="315.09999999999997" stroke="#1a1a1a" stroke-width="1" />
<text x="38.0" y="317.9" font-size="8.5" text-anchor="end" fill="#1e1e1e" font-weight="normal" stroke="#1e1e1e" stroke-width="0.08"  style="">150</text>
<line x1="43.1" y1="418.9" x2="193.8" y2="418.9" stroke="#1a1a1a" stroke-width="1.1" />
<line x1="43.8" y1="418.9" x2="43.8" y2="421.5" stroke="#1a1a1a" stroke-width="1" />
<text x="43.8" y="432.09999999999997" font-size="8.5" text-anchor="middle" fill="#1e1e1e" font-weight="normal" stroke="#1e1e1e" stroke-width="0.08"  style="">0</text>
<line x1="56.099999999999994" y1="418.9" x2="56.099999999999994" y2="421.5" stroke="#1a1a1a" stroke-width="1" />
<text x="56.099999999999994" y="432.09999999999997" font-size="8.5" text-anchor="middle" fill="#1e1e1e" font-weight="normal" stroke="#1e1e1e" stroke-width="0.08"  style="">2</text>
<line x1="68.4" y1="418.9" x2="68.4" y2="421.5" stroke="#1a1a1a" stroke-width="1" />
<text x="68.4" y="432.09999999999997" font-size="8.5" text-anchor="middle" fill="#1e1e1e" font-weight="normal" stroke="#1e1e1e" stroke-width="0.08"  style="">4</text>
<line x1="80.7" y1="418.9" x2="80.7" y2="421.5" stroke="#1a1a1a" stroke-width="1" />
<text x="80.7" y="432.09999999999997" font-size="8.5" text-anchor="middle" fill="#1e1e1e" font-weight="normal" stroke="#1e1e1e" stroke-width="0.08"  style="">6</text>
<line x1="93.0" y1="418.9" x2="93.0" y2="421.5" stroke="#1a1a1a" stroke-width="1" />
<text x="93.0" y="432.09999999999997" font-size="8.5" text-anchor="middle" fill="#1e1e1e" font-weight="normal" stroke="#1e1e1e" stroke-width="0.08"  style="">8</text>
<line x1="105.3" y1="418.9" x2="105.3" y2="421.5" stroke="#1a1a1a" stroke-width="1" />
<text x="105.3" y="432.09999999999997" font-size="8.5" text-anchor="middle" fill="#1e1e1e" font-weight="normal" stroke="#1e1e1e" stroke-width="0.08"  style="">10</text>
<line x1="117.60000000000001" y1="418.9" x2="117.60000000000001" y2="421.5" stroke="#1a1a1a" stroke-width="1" />
<text x="117.60000000000001" y="432.09999999999997" font-size="8.5" text-anchor="middle" fill="#1e1e1e" font-weight="normal" stroke="#1e1e1e" stroke-width="0.08"  style="">12</text>
<line x1="129.9" y1="418.9" x2="129.9" y2="421.5" stroke="#1a1a1a" stroke-width="1" />
<text x="129.9" y="432.09999999999997" font-size="8.5" text-anchor="middle" fill="#1e1e1e" font-weight="normal" stroke="#1e1e1e" stroke-width="0.08"  style="">14</text>
<line x1="142.2" y1="418.9" x2="142.2" y2="421.5" stroke="#1a1a1a" stroke-width="1" />
<text x="142.2" y="432.09999999999997" font-size="8.5" text-anchor="middle" fill="#1e1e1e" font-weight="normal" stroke="#1e1e1e" stroke-width="0.08"  style="">16</text>
<line x1="154.5" y1="418.9" x2="154.5" y2="421.5" stroke="#1a1a1a" stroke-width="1" />
<text x="154.5" y="432.09999999999997" font-size="8.5" text-anchor="middle" fill="#1e1e1e" font-weight="normal" stroke="#1e1e1e" stroke-width="0.08"  style="">18</text>
<line x1="166.8" y1="418.9" x2="166.8" y2="421.5" stroke="#1a1a1a" stroke-width="1" />
<text x="166.8" y="432.09999999999997" font-size="8.5" text-anchor="middle" fill="#1e1e1e" font-weight="normal" stroke="#1e1e1e" stroke-width="0.08"  style="">20</text>
<line x1="179.10000000000002" y1="418.9" x2="179.10000000000002" y2="421.5" stroke="#1a1a1a" stroke-width="1" />
<text x="179.10000000000002" y="432.09999999999997" font-size="8.5" text-anchor="middle" fill="#1e1e1e" font-weight="normal" stroke="#1e1e1e" stroke-width="0.08"  style="">22</text>
<line x1="191.40000000000003" y1="418.9" x2="191.40000000000003" y2="421.5" stroke="#1a1a1a" stroke-width="1" />
<text x="191.40000000000003" y="432.09999999999997" font-size="8.5" text-anchor="middle" fill="#1e1e1e" font-weight="normal" stroke="#1e1e1e" stroke-width="0.08"  style="">24</text>
<text transform="translate(16.9,365.5) rotate(-90)" x="0" y="0" font-size="9.1" text-anchor="middle" fill="#1e1e1e" font-weight="bold" stroke="#1e1e1e" stroke-width="0.2" textLength="30.8" lengthAdjust="spacingAndGlyphs">WBC X 10</text>
<text x="118.9" y="445.8" font-size="9.3" text-anchor="middle" fill="#1e1e1e" font-weight="bold" textLength="20" lengthAdjust="spacingAndGlyphs"  style="">Weeks</text>
<line x1="80.70" y1="409.60" x2="80.70" y2="415.00" stroke="#46a046" stroke-width="0.9" />
<line x1="78.60" y1="409.60" x2="82.80" y2="409.60" stroke="#46a046" stroke-width="0.9" />
<line x1="86.85" y1="405.80" x2="86.85" y2="415.00" stroke="#46a046" stroke-width="0.9" />
<line x1="84.75" y1="405.80" x2="88.95" y2="405.80" stroke="#46a046" stroke-width="0.9" />
<line x1="93.00" y1="402.50" x2="93.00" y2="413.40" stroke="#46a046" stroke-width="0.9" />
<line x1="90.90" y1="402.50" x2="95.10" y2="402.50" stroke="#46a046" stroke-width="0.9" />
<line x1="99.15" y1="401.20" x2="99.15" y2="413.40" stroke="#46a046" stroke-width="0.9" />
<line x1="97.05" y1="401.20" x2="101.25" y2="401.20" stroke="#46a046" stroke-width="0.9" />
<line x1="105.30" y1="414.00" x2="105.30" y2="417.30" stroke="#46a046" stroke-width="0.9" />
<line x1="103.20" y1="414.00" x2="107.40" y2="414.00" stroke="#46a046" stroke-width="0.9" />
<line x1="111.45" y1="405.80" x2="111.45" y2="411.90" stroke="#46a046" stroke-width="0.9" />
<line x1="109.35" y1="405.80" x2="113.55" y2="405.80" stroke="#46a046" stroke-width="0.9" />
<line x1="117.60" y1="408.80" x2="117.60" y2="413.20" stroke="#46a046" stroke-width="0.9" />
<line x1="115.50" y1="408.80" x2="119.70" y2="408.80" stroke="#46a046" stroke-width="0.9" />
<line x1="136.05" y1="409.20" x2="136.05" y2="413.80" stroke="#46a046" stroke-width="0.9" />
<line x1="133.95" y1="409.20" x2="138.15" y2="409.20" stroke="#46a046" stroke-width="0.9" />
<polyline points="56.10,418.50 62.25,418.30 68.40,418.00 74.55,417.50 80.70,415.00 86.85,415.00 93.00,413.40 99.15,413.40 105.30,417.30 111.45,411.90 117.60,413.20 136.05,413.80 179.10,413.75" fill="none" stroke="#46a046" stroke-width="1.0" stroke-linejoin="miter"/>
<polygon points="56.10,416.40 58.20,420.18 54.00,420.18" fill="#46a046"/>
<polygon points="62.25,416.20 64.35,419.98 60.15,419.98" fill="#46a046"/>
<polygon points="68.40,415.90 70.50,419.68 66.30,419.68" fill="#46a046"/>
<polygon points="74.55,415.40 76.65,419.18 72.45,419.18" fill="#46a046"/>
<polygon points="80.70,412.90 82.80,416.68 78.60,416.68" fill="#46a046"/>
<polygon points="86.85,412.90 88.95,416.68 84.75,416.68" fill="#46a046"/>
<polygon points="93.00,411.30 95.10,415.08 90.90,415.08" fill="#46a046"/>
<polygon points="99.15,411.30 101.25,415.08 97.05,415.08" fill="#46a046"/>
<polygon points="105.30,415.20 107.40,418.98 103.20,418.98" fill="#46a046"/>
<polygon points="111.45,409.80 113.55,413.58 109.35,413.58" fill="#46a046"/>
<polygon points="117.60,411.10 119.70,414.88 115.50,414.88" fill="#46a046"/>
<polygon points="136.05,411.70 138.15,415.48 133.95,415.48" fill="#46a046"/>
<polygon points="179.10,411.65 181.20,415.43 177.00,415.43" fill="#46a046"/>
<line x1="80.70" y1="406.50" x2="80.70" y2="411.90" stroke="#c8143c" stroke-width="0.9" />
<line x1="78.60" y1="406.50" x2="82.80" y2="406.50" stroke="#c8143c" stroke-width="0.9" />
<line x1="86.85" y1="405.30" x2="86.85" y2="412.70" stroke="#c8143c" stroke-width="0.9" />
<line x1="84.75" y1="405.30" x2="88.95" y2="405.30" stroke="#c8143c" stroke-width="0.9" />
<line x1="93.00" y1="409.70" x2="93.00" y2="413.80" stroke="#c8143c" stroke-width="0.9" />
<line x1="90.90" y1="409.70" x2="95.10" y2="409.70" stroke="#c8143c" stroke-width="0.9" />
<line x1="99.15" y1="412.00" x2="99.15" y2="415.00" stroke="#c8143c" stroke-width="0.9" />
<line x1="97.05" y1="412.00" x2="101.25" y2="412.00" stroke="#c8143c" stroke-width="0.9" />
<line x1="105.30" y1="408.80" x2="105.30" y2="412.70" stroke="#c8143c" stroke-width="0.9" />
<line x1="103.20" y1="408.80" x2="107.40" y2="408.80" stroke="#c8143c" stroke-width="0.9" />
<line x1="111.45" y1="351.50" x2="111.45" y2="401.20" stroke="#c8143c" stroke-width="0.9" />
<line x1="109.35" y1="351.50" x2="113.55" y2="351.50" stroke="#c8143c" stroke-width="0.9" />
<line x1="117.60" y1="353.20" x2="117.60" y2="392.90" stroke="#c8143c" stroke-width="0.9" />
<line x1="115.50" y1="353.20" x2="119.70" y2="353.20" stroke="#c8143c" stroke-width="0.9" />
<line x1="136.05" y1="351.70" x2="136.05" y2="376.20" stroke="#c8143c" stroke-width="0.9" />
<line x1="133.95" y1="351.70" x2="138.15" y2="351.70" stroke="#c8143c" stroke-width="0.9" />
<polyline points="56.10,418.60 62.25,418.30 68.40,417.30 74.55,417.00 80.70,411.90 86.85,412.70 93.00,413.80 99.15,415.00 105.30,412.70 111.45,401.20 117.60,392.90 136.05,376.20" fill="none" stroke="#c8143c" stroke-width="1.0" stroke-linejoin="miter"/>
<rect x="54.10" y="416.60" width="4.00" height="4.00" fill="#c8143c"/>
<rect x="60.25" y="416.30" width="4.00" height="4.00" fill="#c8143c"/>
<rect x="66.40" y="415.30" width="4.00" height="4.00" fill="#c8143c"/>
<rect x="72.55" y="415.00" width="4.00" height="4.00" fill="#c8143c"/>
<rect x="78.70" y="409.90" width="4.00" height="4.00" fill="#c8143c"/>
<rect x="84.85" y="410.70" width="4.00" height="4.00" fill="#c8143c"/>
<rect x="91.00" y="411.80" width="4.00" height="4.00" fill="#c8143c"/>
<rect x="97.15" y="413.00" width="4.00" height="4.00" fill="#c8143c"/>
<rect x="103.30" y="410.70" width="4.00" height="4.00" fill="#c8143c"/>
<rect x="109.45" y="399.20" width="4.00" height="4.00" fill="#c8143c"/>
<rect x="115.60" y="390.90" width="4.00" height="4.00" fill="#c8143c"/>
<rect x="134.05" y="374.20" width="4.00" height="4.00" fill="#c8143c"/>
<line x1="62.25" y1="412.50" x2="62.25" y2="415.60" stroke="#1d426c" stroke-width="0.9" />
<line x1="60.15" y1="412.50" x2="64.35" y2="412.50" stroke="#1d426c" stroke-width="0.9" />
<line x1="68.40" y1="399.60" x2="68.40" y2="409.30" stroke="#1d426c" stroke-width="0.9" />
<line x1="66.30" y1="399.60" x2="70.50" y2="399.60" stroke="#1d426c" stroke-width="0.9" />
<line x1="74.55" y1="390.40" x2="74.55" y2="403.80" stroke="#1d426c" stroke-width="0.9" />
<line x1="72.45" y1="390.40" x2="76.65" y2="390.40" stroke="#1d426c" stroke-width="0.9" />
<line x1="80.70" y1="344.60" x2="80.70" y2="380.00" stroke="#1d426c" stroke-width="0.9" />
<line x1="78.60" y1="344.60" x2="82.80" y2="344.60" stroke="#1d426c" stroke-width="0.9" />
<line x1="86.85" y1="358.00" x2="86.85" y2="386.20" stroke="#1d426c" stroke-width="0.9" />
<line x1="84.75" y1="358.00" x2="88.95" y2="358.00" stroke="#1d426c" stroke-width="0.9" />
<line x1="93.00" y1="351.50" x2="93.00" y2="384.50" stroke="#1d426c" stroke-width="0.9" />
<line x1="90.90" y1="351.50" x2="95.10" y2="351.50" stroke="#1d426c" stroke-width="0.9" />
<line x1="99.15" y1="351.00" x2="99.15" y2="389.20" stroke="#1d426c" stroke-width="0.9" />
<line x1="97.05" y1="351.00" x2="101.25" y2="351.00" stroke="#1d426c" stroke-width="0.9" />
<line x1="105.30" y1="365.40" x2="105.30" y2="381.00" stroke="#1d426c" stroke-width="0.9" />
<line x1="103.20" y1="365.40" x2="107.40" y2="365.40" stroke="#1d426c" stroke-width="0.9" />
<line x1="111.45" y1="343.50" x2="111.45" y2="377.00" stroke="#1d426c" stroke-width="0.9" />
<line x1="109.35" y1="343.50" x2="113.55" y2="343.50" stroke="#1d426c" stroke-width="0.9" />
<line x1="117.60" y1="322.50" x2="117.60" y2="367.20" stroke="#1d426c" stroke-width="0.9" />
<line x1="115.50" y1="322.50" x2="119.70" y2="322.50" stroke="#1d426c" stroke-width="0.9" />
<polyline points="56.10,416.60 62.25,415.60 68.40,409.30 74.55,403.80 80.70,380.00 86.85,386.20 93.00,384.50 99.15,389.20 105.30,381.00 111.45,377.00 117.60,367.20" fill="none" stroke="#1d426c" stroke-width="1.0" stroke-linejoin="miter"/>
<circle cx="56.10" cy="416.60" r="1.90" fill="#1d426c"/>
<circle cx="62.25" cy="415.60" r="1.90" fill="#1d426c"/>
<circle cx="68.40" cy="409.30" r="1.90" fill="#1d426c"/>
<circle cx="74.55" cy="403.80" r="1.90" fill="#1d426c"/>
<circle cx="80.70" cy="380.00" r="1.90" fill="#1d426c"/>
<circle cx="86.85" cy="386.20" r="1.90" fill="#1d426c"/>
<circle cx="93.00" cy="384.50" r="1.90" fill="#1d426c"/>
<circle cx="99.15" cy="389.20" r="1.90" fill="#1d426c"/>
<circle cx="105.30" cy="381.00" r="1.90" fill="#1d426c"/>
<circle cx="111.45" cy="377.00" r="1.90" fill="#1d426c"/>
<circle cx="117.60" cy="367.20" r="1.90" fill="#1d426c"/>
<line x1="135.5" y1="383.8" x2="135.5" y2="402.8" stroke="#333" stroke-width="1" />
<text x="140.2" y="397.2" font-size="7.5" text-anchor="middle" fill="#1e1e1e" font-weight="bold"  style="">*</text>
<line x1="187.3" y1="353" x2="198.3" y2="353" stroke="#1d426c" stroke-width="1" />
<circle cx="192.80" cy="353.00" r="1.90" fill="#1d426c"/>
<text x="202.10000000000002" y="355.6" font-size="7.25" text-anchor="start" fill="#1e1e1e" font-weight="normal" stroke="#1e1e1e" stroke-width="0.3"  style="">Vehicle</text>
<line x1="187.3" y1="365.3" x2="198.3" y2="365.3" stroke="#c8143c" stroke-width="1" />
<rect x="190.80" y="363.30" width="4.00" height="4.00" fill="#c8143c"/>
<text x="202.10000000000002" y="367.90000000000003" font-size="7.25" text-anchor="start" fill="#1e1e1e" font-weight="normal" stroke="#1e1e1e" stroke-width="0.3"  style="">Gilteritinib</text>
<line x1="187.3" y1="377.5" x2="198.3" y2="377.5" stroke="#46a046" stroke-width="1" />
<polygon points="192.80,375.40 194.90,379.18 190.70,379.18" fill="#46a046"/>
<text x="202.10000000000002" y="380.1" font-size="7.25" text-anchor="start" fill="#1e1e1e" font-weight="normal" stroke="#1e1e1e" stroke-width="0.3"  style="">Pluripotin</text>
<line x1="304.8" y1="313.1" x2="304.8" y2="419.3" stroke="#1a1a1a" stroke-width="1.1" />
<line x1="301.6" y1="418.8" x2="304.8" y2="418.8" stroke="#1a1a1a" stroke-width="1" />
<text x="299.2" y="421.6" font-size="8.5" text-anchor="end" fill="#1e1e1e" font-weight="normal" stroke="#1e1e1e" stroke-width="0.08"  style="">0</text>
<line x1="301.6" y1="384.2" x2="304.8" y2="384.2" stroke="#1a1a1a" stroke-width="1" />
<text x="299.2" y="387.0" font-size="8.5" text-anchor="end" fill="#1e1e1e" font-weight="normal" stroke="#1e1e1e" stroke-width="0.08"  style="">5</text>
<line x1="301.6" y1="349.6" x2="304.8" y2="349.6" stroke="#1a1a1a" stroke-width="1" />
<text x="299.2" y="352.40000000000003" font-size="8.5" text-anchor="end" fill="#1e1e1e" font-weight="normal" stroke="#1e1e1e" stroke-width="0.08"  style="">10</text>
<line x1="301.6" y1="315.0" x2="304.8" y2="315.0" stroke="#1a1a1a" stroke-width="1" />
<text x="299.2" y="317.8" font-size="8.5" text-anchor="end" fill="#1e1e1e" font-weight="normal" stroke="#1e1e1e" stroke-width="0.08"  style="">15</text>
<line x1="304.3" y1="418.8" x2="463.5" y2="418.8" stroke="#1a1a1a" stroke-width="1.1" />
<line x1="304.8" y1="418.8" x2="304.8" y2="421.40000000000003" stroke="#1a1a1a" stroke-width="1" />
<text x="304.8" y="432.0" font-size="8.5" text-anchor="middle" fill="#1e1e1e" font-weight="normal" stroke="#1e1e1e" stroke-width="0.08"  style="">0</text>
<line x1="335.90000000000003" y1="418.8" x2="335.90000000000003" y2="421.40000000000003" stroke="#1a1a1a" stroke-width="1" />
<text x="335.90000000000003" y="432.0" font-size="8.5" text-anchor="middle" fill="#1e1e1e" font-weight="normal" stroke="#1e1e1e" stroke-width="0.08"  style="">5</text>
<line x1="367.0" y1="418.8" x2="367.0" y2="421.40000000000003" stroke="#1a1a1a" stroke-width="1" />
<text x="367.0" y="432.0" font-size="8.5" text-anchor="middle" fill="#1e1e1e" font-weight="normal" stroke="#1e1e1e" stroke-width="0.08"  style="">10</text>
<line x1="398.1" y1="418.8" x2="398.1" y2="421.40000000000003" stroke="#1a1a1a" stroke-width="1" />
<text x="398.1" y="432.0" font-size="8.5" text-anchor="middle" fill="#1e1e1e" font-weight="normal" stroke="#1e1e1e" stroke-width="0.08"  style="">15</text>
<line x1="429.2" y1="418.8" x2="429.2" y2="421.40000000000003" stroke="#1a1a1a" stroke-width="1" />
<text x="429.2" y="432.0" font-size="8.5" text-anchor="middle" fill="#1e1e1e" font-weight="normal" stroke="#1e1e1e" stroke-width="0.08"  style="">20</text>
<line x1="460.3" y1="418.8" x2="460.3" y2="421.40000000000003" stroke="#1a1a1a" stroke-width="1" />
<text x="460.3" y="432.0" font-size="8.5" text-anchor="middle" fill="#1e1e1e" font-weight="normal" stroke="#1e1e1e" stroke-width="0.08"  style="">25</text>
<text transform="translate(283.5,365.7) rotate(-90)" x="0" y="0" font-size="9.3" text-anchor="middle" fill="#1e1e1e" font-weight="bold" stroke="#1e1e1e" stroke-width="0.2" textLength="12.3" lengthAdjust="spacingAndGlyphs">RBC</text>
<text x="384.0" y="445.8" font-size="9.3" text-anchor="middle" fill="#1e1e1e" font-weight="bold" textLength="20" lengthAdjust="spacingAndGlyphs"  style="">Weeks</text>
<line x1="317.24" y1="354.00" x2="317.24" y2="361.00" stroke="#46a046" stroke-width="0.9" />
<line x1="315.14" y1="354.00" x2="319.34" y2="354.00" stroke="#46a046" stroke-width="0.9" />
<line x1="315.14" y1="361.00" x2="319.34" y2="361.00" stroke="#46a046" stroke-width="0.9" />
<line x1="323.46" y1="356.00" x2="323.46" y2="369.80" stroke="#46a046" stroke-width="0.9" />
<line x1="321.36" y1="356.00" x2="325.56" y2="356.00" stroke="#46a046" stroke-width="0.9" />
<line x1="321.36" y1="369.80" x2="325.56" y2="369.80" stroke="#46a046" stroke-width="0.9" />
<line x1="329.68" y1="355.00" x2="329.68" y2="369.00" stroke="#46a046" stroke-width="0.9" />
<line x1="327.58" y1="355.00" x2="331.78" y2="355.00" stroke="#46a046" stroke-width="0.9" />
<line x1="327.58" y1="369.00" x2="331.78" y2="369.00" stroke="#46a046" stroke-width="0.9" />
<line x1="335.90" y1="356.00" x2="335.90" y2="365.00" stroke="#46a046" stroke-width="0.9" />
<line x1="333.80" y1="356.00" x2="338.00" y2="356.00" stroke="#46a046" stroke-width="0.9" />
<line x1="333.80" y1="365.00" x2="338.00" y2="365.00" stroke="#46a046" stroke-width="0.9" />
<line x1="342.12" y1="354.00" x2="342.12" y2="365.00" stroke="#46a046" stroke-width="0.9" />
<line x1="340.02" y1="354.00" x2="344.22" y2="354.00" stroke="#46a046" stroke-width="0.9" />
<line x1="340.02" y1="365.00" x2="344.22" y2="365.00" stroke="#46a046" stroke-width="0.9" />
<line x1="348.34" y1="353.00" x2="348.34" y2="367.00" stroke="#46a046" stroke-width="0.9" />
<line x1="346.24" y1="353.00" x2="350.44" y2="353.00" stroke="#46a046" stroke-width="0.9" />
<line x1="346.24" y1="367.00" x2="350.44" y2="367.00" stroke="#46a046" stroke-width="0.9" />
<line x1="354.56" y1="358.00" x2="354.56" y2="371.00" stroke="#46a046" stroke-width="0.9" />
<line x1="352.46" y1="358.00" x2="356.66" y2="358.00" stroke="#46a046" stroke-width="0.9" />
<line x1="352.46" y1="371.00" x2="356.66" y2="371.00" stroke="#46a046" stroke-width="0.9" />
<line x1="360.78" y1="357.00" x2="360.78" y2="370.00" stroke="#46a046" stroke-width="0.9" />
<line x1="358.68" y1="357.00" x2="362.88" y2="357.00" stroke="#46a046" stroke-width="0.9" />
<line x1="358.68" y1="370.00" x2="362.88" y2="370.00" stroke="#46a046" stroke-width="0.9" />
<line x1="367.00" y1="357.00" x2="367.00" y2="369.00" stroke="#46a046" stroke-width="0.9" />
<line x1="364.90" y1="357.00" x2="369.10" y2="357.00" stroke="#46a046" stroke-width="0.9" />
<line x1="364.90" y1="369.00" x2="369.10" y2="369.00" stroke="#46a046" stroke-width="0.9" />
<line x1="373.22" y1="364.00" x2="373.22" y2="377.00" stroke="#46a046" stroke-width="0.9" />
<line x1="371.12" y1="364.00" x2="375.32" y2="364.00" stroke="#46a046" stroke-width="0.9" />
<line x1="371.12" y1="377.00" x2="375.32" y2="377.00" stroke="#46a046" stroke-width="0.9" />
<line x1="379.44" y1="363.50" x2="379.44" y2="378.00" stroke="#46a046" stroke-width="0.9" />
<line x1="377.34" y1="363.50" x2="381.54" y2="363.50" stroke="#46a046" stroke-width="0.9" />
<line x1="377.34" y1="378.00" x2="381.54" y2="378.00" stroke="#46a046" stroke-width="0.9" />
<line x1="398.10" y1="362.00" x2="398.10" y2="376.00" stroke="#46a046" stroke-width="0.9" />
<line x1="396.00" y1="362.00" x2="400.20" y2="362.00" stroke="#46a046" stroke-width="0.9" />
<line x1="396.00" y1="376.00" x2="400.20" y2="376.00" stroke="#46a046" stroke-width="0.9" />
<line x1="441.64" y1="368.50" x2="441.64" y2="376.30" stroke="#46a046" stroke-width="0.9" />
<line x1="439.54" y1="368.50" x2="443.74" y2="368.50" stroke="#46a046" stroke-width="0.9" />
<line x1="439.54" y1="376.30" x2="443.74" y2="376.30" stroke="#46a046" stroke-width="0.9" />
<polyline points="317.24,357.50 323.46,363.00 329.68,362.00 335.90,360.50 342.12,359.50 348.34,360.00 354.56,364.50 360.78,363.50 367.00,363.00 373.22,370.50 379.44,370.80 398.10,369.00 441.64,372.30" fill="none" stroke="#46a046" stroke-width="1.0" stroke-linejoin="miter"/>
<polygon points="317.24,355.40 319.34,359.18 315.14,359.18" fill="#46a046"/>
<polygon points="323.46,360.90 325.56,364.68 321.36,364.68" fill="#46a046"/>
<polygon points="329.68,359.90 331.78,363.68 327.58,363.68" fill="#46a046"/>
<polygon points="335.90,358.40 338.00,362.18 333.80,362.18" fill="#46a046"/>
<polygon points="342.12,357.40 344.22,361.18 340.02,361.18" fill="#46a046"/>
<polygon points="348.34,357.90 350.44,361.68 346.24,361.68" fill="#46a046"/>
<polygon points="354.56,362.40 356.66,366.18 352.46,366.18" fill="#46a046"/>
<polygon points="360.78,361.40 362.88,365.18 358.68,365.18" fill="#46a046"/>
<polygon points="367.00,360.90 369.10,364.68 364.90,364.68" fill="#46a046"/>
<polygon points="373.22,368.40 375.32,372.18 371.12,372.18" fill="#46a046"/>
<polygon points="379.44,368.70 381.54,372.48 377.34,372.48" fill="#46a046"/>
<polygon points="398.10,366.90 400.20,370.68 396.00,370.68" fill="#46a046"/>
<polygon points="441.64,370.20 443.74,373.98 439.54,373.98" fill="#46a046"/>
<line x1="317.24" y1="352.00" x2="317.24" y2="360.60" stroke="#c8143c" stroke-width="0.9" />
<line x1="315.14" y1="352.00" x2="319.34" y2="352.00" stroke="#c8143c" stroke-width="0.9" />
<line x1="315.14" y1="360.60" x2="319.34" y2="360.60" stroke="#c8143c" stroke-width="0.9" />
<line x1="323.46" y1="352.00" x2="323.46" y2="362.00" stroke="#c8143c" stroke-width="0.9" />
<line x1="321.36" y1="352.00" x2="325.56" y2="352.00" stroke="#c8143c" stroke-width="0.9" />
<line x1="321.36" y1="362.00" x2="325.56" y2="362.00" stroke="#c8143c" stroke-width="0.9" />
<line x1="329.68" y1="355.00" x2="329.68" y2="363.40" stroke="#c8143c" stroke-width="0.9" />
<line x1="327.58" y1="355.00" x2="331.78" y2="355.00" stroke="#c8143c" stroke-width="0.9" />
<line x1="327.58" y1="363.40" x2="331.78" y2="363.40" stroke="#c8143c" stroke-width="0.9" />
<line x1="335.90" y1="356.60" x2="335.90" y2="362.60" stroke="#c8143c" stroke-width="0.9" />
<line x1="333.80" y1="356.60" x2="338.00" y2="356.60" stroke="#c8143c" stroke-width="0.9" />
<line x1="333.80" y1="362.60" x2="338.00" y2="362.60" stroke="#c8143c" stroke-width="0.9" />
<line x1="342.12" y1="355.60" x2="342.12" y2="362.00" stroke="#c8143c" stroke-width="0.9" />
<line x1="340.02" y1="355.60" x2="344.22" y2="355.60" stroke="#c8143c" stroke-width="0.9" />
<line x1="340.02" y1="362.00" x2="344.22" y2="362.00" stroke="#c8143c" stroke-width="0.9" />
<line x1="348.34" y1="351.50" x2="348.34" y2="366.00" stroke="#c8143c" stroke-width="0.9" />
<line x1="346.24" y1="351.50" x2="350.44" y2="351.50" stroke="#c8143c" stroke-width="0.9" />
<line x1="346.24" y1="366.00" x2="350.44" y2="366.00" stroke="#c8143c" stroke-width="0.9" />
<line x1="354.56" y1="359.00" x2="354.56" y2="369.00" stroke="#c8143c" stroke-width="0.9" />
<line x1="352.46" y1="359.00" x2="356.66" y2="359.00" stroke="#c8143c" stroke-width="0.9" />
<line x1="352.46" y1="369.00" x2="356.66" y2="369.00" stroke="#c8143c" stroke-width="0.9" />
<line x1="360.78" y1="357.00" x2="360.78" y2="368.40" stroke="#c8143c" stroke-width="0.9" />
<line x1="358.68" y1="357.00" x2="362.88" y2="357.00" stroke="#c8143c" stroke-width="0.9" />
<line x1="358.68" y1="368.40" x2="362.88" y2="368.40" stroke="#c8143c" stroke-width="0.9" />
<line x1="367.00" y1="357.50" x2="367.00" y2="366.70" stroke="#c8143c" stroke-width="0.9" />
<line x1="364.90" y1="357.50" x2="369.10" y2="357.50" stroke="#c8143c" stroke-width="0.9" />
<line x1="364.90" y1="366.70" x2="369.10" y2="366.70" stroke="#c8143c" stroke-width="0.9" />
<line x1="373.22" y1="351.00" x2="373.22" y2="392.90" stroke="#c8143c" stroke-width="0.9" />
<line x1="371.12" y1="351.00" x2="375.32" y2="351.00" stroke="#c8143c" stroke-width="0.9" />
<line x1="371.12" y1="392.90" x2="375.32" y2="392.90" stroke="#c8143c" stroke-width="0.9" />
<line x1="379.44" y1="349.20" x2="379.44" y2="396.70" stroke="#c8143c" stroke-width="0.9" />
<line x1="377.34" y1="349.20" x2="381.54" y2="349.20" stroke="#c8143c" stroke-width="0.9" />
<line x1="377.34" y1="396.70" x2="381.54" y2="396.70" stroke="#c8143c" stroke-width="0.9" />
<line x1="398.10" y1="359.20" x2="398.10" y2="380.40" stroke="#c8143c" stroke-width="0.9" />
<line x1="396.00" y1="359.20" x2="400.20" y2="359.20" stroke="#c8143c" stroke-width="0.9" />
<line x1="396.00" y1="380.40" x2="400.20" y2="380.40" stroke="#c8143c" stroke-width="0.9" />
<polyline points="317.24,356.30 323.46,357.00 329.68,359.20 335.90,359.60 342.12,358.80 348.34,358.80 354.56,364.00 360.78,362.70 367.00,362.10 373.22,371.30 379.44,372.70 398.10,369.80" fill="none" stroke="#c8143c" stroke-width="1.0" stroke-linejoin="miter"/>
<rect x="315.24" y="354.30" width="4.00" height="4.00" fill="#c8143c"/>
<rect x="321.46" y="355.00" width="4.00" height="4.00" fill="#c8143c"/>
<rect x="327.68" y="357.20" width="4.00" height="4.00" fill="#c8143c"/>
<rect x="333.90" y="357.60" width="4.00" height="4.00" fill="#c8143c"/>
<rect x="340.12" y="356.80" width="4.00" height="4.00" fill="#c8143c"/>
<rect x="346.34" y="356.80" width="4.00" height="4.00" fill="#c8143c"/>
<rect x="352.56" y="362.00" width="4.00" height="4.00" fill="#c8143c"/>
<rect x="358.78" y="360.70" width="4.00" height="4.00" fill="#c8143c"/>
<rect x="365.00" y="360.10" width="4.00" height="4.00" fill="#c8143c"/>
<rect x="371.22" y="369.30" width="4.00" height="4.00" fill="#c8143c"/>
<rect x="377.44" y="370.70" width="4.00" height="4.00" fill="#c8143c"/>
<rect x="396.10" y="367.80" width="4.00" height="4.00" fill="#c8143c"/>
<line x1="317.24" y1="352.50" x2="317.24" y2="364.00" stroke="#1d426c" stroke-width="0.9" />
<line x1="315.14" y1="352.50" x2="319.34" y2="352.50" stroke="#1d426c" stroke-width="0.9" />
<line x1="315.14" y1="364.00" x2="319.34" y2="364.00" stroke="#1d426c" stroke-width="0.9" />
<line x1="323.46" y1="344.80" x2="323.46" y2="364.00" stroke="#1d426c" stroke-width="0.9" />
<line x1="321.36" y1="344.80" x2="325.56" y2="344.80" stroke="#1d426c" stroke-width="0.9" />
<line x1="321.36" y1="364.00" x2="325.56" y2="364.00" stroke="#1d426c" stroke-width="0.9" />
<line x1="329.68" y1="351.00" x2="329.68" y2="363.00" stroke="#1d426c" stroke-width="0.9" />
<line x1="327.58" y1="351.00" x2="331.78" y2="351.00" stroke="#1d426c" stroke-width="0.9" />
<line x1="327.58" y1="363.00" x2="331.78" y2="363.00" stroke="#1d426c" stroke-width="0.9" />
<line x1="335.90" y1="357.00" x2="335.90" y2="367.00" stroke="#1d426c" stroke-width="0.9" />
<line x1="333.80" y1="357.00" x2="338.00" y2="357.00" stroke="#1d426c" stroke-width="0.9" />
<line x1="333.80" y1="367.00" x2="338.00" y2="367.00" stroke="#1d426c" stroke-width="0.9" />
<line x1="342.12" y1="362.00" x2="342.12" y2="382.30" stroke="#1d426c" stroke-width="0.9" />
<line x1="340.02" y1="362.00" x2="344.22" y2="362.00" stroke="#1d426c" stroke-width="0.9" />
<line x1="340.02" y1="382.30" x2="344.22" y2="382.30" stroke="#1d426c" stroke-width="0.9" />
<line x1="348.34" y1="365.00" x2="348.34" y2="395.40" stroke="#1d426c" stroke-width="0.9" />
<line x1="346.24" y1="365.00" x2="350.44" y2="365.00" stroke="#1d426c" stroke-width="0.9" />
<line x1="346.24" y1="395.40" x2="350.44" y2="395.40" stroke="#1d426c" stroke-width="0.9" />
<line x1="354.56" y1="368.80" x2="354.56" y2="408.30" stroke="#1d426c" stroke-width="0.9" />
<line x1="352.46" y1="368.80" x2="356.66" y2="368.80" stroke="#1d426c" stroke-width="0.9" />
<line x1="352.46" y1="408.30" x2="356.66" y2="408.30" stroke="#1d426c" stroke-width="0.9" />
<line x1="360.78" y1="359.00" x2="360.78" y2="405.40" stroke="#1d426c" stroke-width="0.9" />
<line x1="358.68" y1="359.00" x2="362.88" y2="359.00" stroke="#1d426c" stroke-width="0.9" />
<line x1="358.68" y1="405.40" x2="362.88" y2="405.40" stroke="#1d426c" stroke-width="0.9" />
<line x1="367.00" y1="367.00" x2="367.00" y2="389.00" stroke="#1d426c" stroke-width="0.9" />
<line x1="364.90" y1="367.00" x2="369.10" y2="367.00" stroke="#1d426c" stroke-width="0.9" />
<line x1="364.90" y1="389.00" x2="369.10" y2="389.00" stroke="#1d426c" stroke-width="0.9" />
<line x1="373.22" y1="363.00" x2="373.22" y2="403.00" stroke="#1d426c" stroke-width="0.9" />
<line x1="371.12" y1="363.00" x2="375.32" y2="363.00" stroke="#1d426c" stroke-width="0.9" />
<line x1="371.12" y1="403.00" x2="375.32" y2="403.00" stroke="#1d426c" stroke-width="0.9" />
<line x1="379.44" y1="365.00" x2="379.44" y2="409.60" stroke="#1d426c" stroke-width="0.9" />
<line x1="377.34" y1="365.00" x2="381.54" y2="365.00" stroke="#1d426c" stroke-width="0.9" />
<line x1="377.34" y1="409.60" x2="381.54" y2="409.60" stroke="#1d426c" stroke-width="0.9" />
<polyline points="317.24,358.30 323.46,355.00 329.68,357.00 335.90,362.00 342.12,371.70 348.34,380.40 354.56,389.00 360.78,382.90 367.00,377.50 373.22,382.70 379.44,387.70" fill="none" stroke="#1d426c" stroke-width="1.0" stroke-linejoin="miter"/>
<circle cx="317.24" cy="358.30" r="1.90" fill="#1d426c"/>
<circle cx="323.46" cy="355.00" r="1.90" fill="#1d426c"/>
<circle cx="329.68" cy="357.00" r="1.90" fill="#1d426c"/>
<circle cx="335.90" cy="362.00" r="1.90" fill="#1d426c"/>
<circle cx="342.12" cy="371.70" r="1.90" fill="#1d426c"/>
<circle cx="348.34" cy="380.40" r="1.90" fill="#1d426c"/>
<circle cx="354.56" cy="389.00" r="1.90" fill="#1d426c"/>
<circle cx="360.78" cy="382.90" r="1.90" fill="#1d426c"/>
<circle cx="367.00" cy="377.50" r="1.90" fill="#1d426c"/>
<circle cx="373.22" cy="382.70" r="1.90" fill="#1d426c"/>
<circle cx="379.44" cy="387.70" r="1.90" fill="#1d426c"/>
<line x1="472" y1="352.9" x2="483" y2="352.9" stroke="#1d426c" stroke-width="1" />
<circle cx="477.50" cy="352.90" r="1.90" fill="#1d426c"/>
<text x="486.8" y="355.5" font-size="7.25" text-anchor="start" fill="#1e1e1e" font-weight="normal" stroke="#1e1e1e" stroke-width="0.3"  style="">Vehicle</text>
<line x1="472" y1="365" x2="483" y2="365" stroke="#c8143c" stroke-width="1" />
<rect x="475.50" y="363.00" width="4.00" height="4.00" fill="#c8143c"/>
<text x="486.8" y="367.6" font-size="7.25" text-anchor="start" fill="#1e1e1e" font-weight="normal" stroke="#1e1e1e" stroke-width="0.3"  style="">Gilteritinib</text>
<line x1="472" y1="377.7" x2="483" y2="377.7" stroke="#46a046" stroke-width="1" />
<polygon points="477.50,375.60 479.60,379.38 475.40,379.38" fill="#46a046"/>
<text x="486.8" y="380.3" font-size="7.25" text-anchor="start" fill="#1e1e1e" font-weight="normal" stroke="#1e1e1e" stroke-width="0.3"  style="">Pluripotin</text>
<line x1="38.6" y1="479.5" x2="38.6" y2="586.3" stroke="#1a1a1a" stroke-width="1.1" />
<line x1="35.4" y1="585.8" x2="38.6" y2="585.8" stroke="#1a1a1a" stroke-width="1" />
<text x="33.0" y="588.5999999999999" font-size="8.5" text-anchor="end" fill="#1e1e1e" font-weight="normal" stroke="#1e1e1e" stroke-width="0.08"  style="">0</text>
<line x1="35.4" y1="565.05" x2="38.6" y2="565.05" stroke="#1a1a1a" stroke-width="1" />
<text x="33.0" y="567.8499999999999" font-size="8.5" text-anchor="end" fill="#1e1e1e" font-weight="normal" stroke="#1e1e1e" stroke-width="0.08"  style="">10</text>
<line x1="35.4" y1="544.3" x2="38.6" y2="544.3" stroke="#1a1a1a" stroke-width="1" />
<text x="33.0" y="547.0999999999999" font-size="8.5" text-anchor="end" fill="#1e1e1e" font-weight="normal" stroke="#1e1e1e" stroke-width="0.08"  style="">20</text>
<line x1="35.4" y1="523.55" x2="38.6" y2="523.55" stroke="#1a1a1a" stroke-width="1" />
<text x="33.0" y="526.3499999999999" font-size="8.5" text-anchor="end" fill="#1e1e1e" font-weight="normal" stroke="#1e1e1e" stroke-width="0.08"  style="">30</text>
<line x1="35.4" y1="502.79999999999995" x2="38.6" y2="502.79999999999995" stroke="#1a1a1a" stroke-width="1" />
<text x="33.0" y="505.59999999999997" font-size="8.5" text-anchor="end" fill="#1e1e1e" font-weight="normal" stroke="#1e1e1e" stroke-width="0.08"  style="">40</text>
<line x1="35.4" y1="482.04999999999995" x2="38.6" y2="482.04999999999995" stroke="#1a1a1a" stroke-width="1" />
<text x="33.0" y="484.84999999999997" font-size="8.5" text-anchor="end" fill="#1e1e1e" font-weight="normal" stroke="#1e1e1e" stroke-width="0.08"  style="">50</text>
<line x1="38.1" y1="585.8" x2="196.5" y2="585.8" stroke="#1a1a1a" stroke-width="1.1" />
<line x1="38.6" y1="585.8" x2="38.6" y2="588.4" stroke="#1a1a1a" stroke-width="1" />
<text x="38.6" y="599.0" font-size="8.5" text-anchor="middle" fill="#1e1e1e" font-weight="normal" stroke="#1e1e1e" stroke-width="0.08"  style="">0</text>
<line x1="69.75" y1="585.8" x2="69.75" y2="588.4" stroke="#1a1a1a" stroke-width="1" />
<text x="69.75" y="599.0" font-size="8.5" text-anchor="middle" fill="#1e1e1e" font-weight="normal" stroke="#1e1e1e" stroke-width="0.08"  style="">5</text>
<line x1="100.9" y1="585.8" x2="100.9" y2="588.4" stroke="#1a1a1a" stroke-width="1" />
<text x="100.9" y="599.0" font-size="8.5" text-anchor="middle" fill="#1e1e1e" font-weight="normal" stroke="#1e1e1e" stroke-width="0.08"  style="">10</text>
<line x1="132.05" y1="585.8" x2="132.05" y2="588.4" stroke="#1a1a1a" stroke-width="1" />
<text x="132.05" y="599.0" font-size="8.5" text-anchor="middle" fill="#1e1e1e" font-weight="normal" stroke="#1e1e1e" stroke-width="0.08"  style="">15</text>
<line x1="163.20000000000002" y1="585.8" x2="163.20000000000002" y2="588.4" stroke="#1a1a1a" stroke-width="1" />
<text x="163.20000000000002" y="599.0" font-size="8.5" text-anchor="middle" fill="#1e1e1e" font-weight="normal" stroke="#1e1e1e" stroke-width="0.08"  style="">20</text>
<line x1="194.35" y1="585.8" x2="194.35" y2="588.4" stroke="#1a1a1a" stroke-width="1" />
<text x="194.35" y="599.0" font-size="8.5" text-anchor="middle" fill="#1e1e1e" font-weight="normal" stroke="#1e1e1e" stroke-width="0.08"  style="">25</text>
<text transform="translate(16.4,532.0) rotate(-90)" x="0" y="0" font-size="9.3" text-anchor="middle" fill="#1e1e1e" font-weight="bold" stroke="#1e1e1e" stroke-width="0.2" textLength="12" lengthAdjust="spacingAndGlyphs">HCT</text>
<text x="117.8" y="612.8" font-size="9.3" text-anchor="middle" fill="#1e1e1e" font-weight="bold" textLength="20.2" lengthAdjust="spacingAndGlyphs"  style="">Weeks</text>
<line x1="51.06" y1="500.00" x2="51.06" y2="510.00" stroke="#46a046" stroke-width="0.9" />
<line x1="48.96" y1="500.00" x2="53.16" y2="500.00" stroke="#46a046" stroke-width="0.9" />
<line x1="48.96" y1="510.00" x2="53.16" y2="510.00" stroke="#46a046" stroke-width="0.9" />
<line x1="57.29" y1="506.00" x2="57.29" y2="523.00" stroke="#46a046" stroke-width="0.9" />
<line x1="55.19" y1="506.00" x2="59.39" y2="506.00" stroke="#46a046" stroke-width="0.9" />
<line x1="55.19" y1="523.00" x2="59.39" y2="523.00" stroke="#46a046" stroke-width="0.9" />
<line x1="63.52" y1="502.00" x2="63.52" y2="519.50" stroke="#46a046" stroke-width="0.9" />
<line x1="61.42" y1="502.00" x2="65.62" y2="502.00" stroke="#46a046" stroke-width="0.9" />
<line x1="61.42" y1="519.50" x2="65.62" y2="519.50" stroke="#46a046" stroke-width="0.9" />
<line x1="69.75" y1="503.00" x2="69.75" y2="513.00" stroke="#46a046" stroke-width="0.9" />
<line x1="67.65" y1="503.00" x2="71.85" y2="503.00" stroke="#46a046" stroke-width="0.9" />
<line x1="67.65" y1="513.00" x2="71.85" y2="513.00" stroke="#46a046" stroke-width="0.9" />
<line x1="75.98" y1="497.70" x2="75.98" y2="511.50" stroke="#46a046" stroke-width="0.9" />
<line x1="73.88" y1="497.70" x2="78.08" y2="497.70" stroke="#46a046" stroke-width="0.9" />
<line x1="73.88" y1="511.50" x2="78.08" y2="511.50" stroke="#46a046" stroke-width="0.9" />
<line x1="82.21" y1="499.00" x2="82.21" y2="518.00" stroke="#46a046" stroke-width="0.9" />
<line x1="80.11" y1="499.00" x2="84.31" y2="499.00" stroke="#46a046" stroke-width="0.9" />
<line x1="80.11" y1="518.00" x2="84.31" y2="518.00" stroke="#46a046" stroke-width="0.9" />
<line x1="88.44" y1="499.00" x2="88.44" y2="512.00" stroke="#46a046" stroke-width="0.9" />
<line x1="86.34" y1="499.00" x2="90.54" y2="499.00" stroke="#46a046" stroke-width="0.9" />
<line x1="86.34" y1="512.00" x2="90.54" y2="512.00" stroke="#46a046" stroke-width="0.9" />
<line x1="94.67" y1="503.00" x2="94.67" y2="517.00" stroke="#46a046" stroke-width="0.9" />
<line x1="92.57" y1="503.00" x2="96.77" y2="503.00" stroke="#46a046" stroke-width="0.9" />
<line x1="92.57" y1="517.00" x2="96.77" y2="517.00" stroke="#46a046" stroke-width="0.9" />
<line x1="100.90" y1="505.00" x2="100.90" y2="517.00" stroke="#46a046" stroke-width="0.9" />
<line x1="98.80" y1="505.00" x2="103.00" y2="505.00" stroke="#46a046" stroke-width="0.9" />
<line x1="98.80" y1="517.00" x2="103.00" y2="517.00" stroke="#46a046" stroke-width="0.9" />
<line x1="107.13" y1="515.00" x2="107.13" y2="529.50" stroke="#46a046" stroke-width="0.9" />
<line x1="105.03" y1="515.00" x2="109.23" y2="515.00" stroke="#46a046" stroke-width="0.9" />
<line x1="105.03" y1="529.50" x2="109.23" y2="529.50" stroke="#46a046" stroke-width="0.9" />
<line x1="113.36" y1="516.00" x2="113.36" y2="529.50" stroke="#46a046" stroke-width="0.9" />
<line x1="111.26" y1="516.00" x2="115.46" y2="516.00" stroke="#46a046" stroke-width="0.9" />
<line x1="111.26" y1="529.50" x2="115.46" y2="529.50" stroke="#46a046" stroke-width="0.9" />
<line x1="132.05" y1="516.00" x2="132.05" y2="529.50" stroke="#46a046" stroke-width="0.9" />
<line x1="129.95" y1="516.00" x2="134.15" y2="516.00" stroke="#46a046" stroke-width="0.9" />
<line x1="129.95" y1="529.50" x2="134.15" y2="529.50" stroke="#46a046" stroke-width="0.9" />
<line x1="175.66" y1="513.20" x2="175.66" y2="528.20" stroke="#46a046" stroke-width="0.9" />
<line x1="173.56" y1="513.20" x2="177.76" y2="513.20" stroke="#46a046" stroke-width="0.9" />
<line x1="173.56" y1="528.20" x2="177.76" y2="528.20" stroke="#46a046" stroke-width="0.9" />
<polyline points="51.06,505.00 57.29,514.60 63.52,510.80 69.75,508.00 75.98,504.60 82.21,508.50 88.44,505.50 94.67,510.00 100.90,511.00 107.13,522.30 113.36,522.70 132.05,522.70 175.66,521.00" fill="none" stroke="#46a046" stroke-width="1.0" stroke-linejoin="miter"/>
<polygon points="51.06,502.90 53.16,506.68 48.96,506.68" fill="#46a046"/>
<polygon points="57.29,512.50 59.39,516.28 55.19,516.28" fill="#46a046"/>
<polygon points="63.52,508.70 65.62,512.48 61.42,512.48" fill="#46a046"/>
<polygon points="69.75,505.90 71.85,509.68 67.65,509.68" fill="#46a046"/>
<polygon points="75.98,502.50 78.08,506.28 73.88,506.28" fill="#46a046"/>
<polygon points="82.21,506.40 84.31,510.18 80.11,510.18" fill="#46a046"/>
<polygon points="88.44,503.40 90.54,507.18 86.34,507.18" fill="#46a046"/>
<polygon points="94.67,507.90 96.77,511.68 92.57,511.68" fill="#46a046"/>
<polygon points="100.90,508.90 103.00,512.68 98.80,512.68" fill="#46a046"/>
<polygon points="107.13,520.20 109.23,523.98 105.03,523.98" fill="#46a046"/>
<polygon points="113.36,520.60 115.46,524.38 111.26,524.38" fill="#46a046"/>
<polygon points="132.05,520.60 134.15,524.38 129.95,524.38" fill="#46a046"/>
<polygon points="175.66,518.90 177.76,522.68 173.56,522.68" fill="#46a046"/>
<line x1="51.06" y1="500.00" x2="51.06" y2="510.00" stroke="#c8143c" stroke-width="0.9" />
<line x1="48.96" y1="500.00" x2="53.16" y2="500.00" stroke="#c8143c" stroke-width="0.9" />
<line x1="48.96" y1="510.00" x2="53.16" y2="510.00" stroke="#c8143c" stroke-width="0.9" />
<line x1="57.29" y1="502.00" x2="57.29" y2="511.80" stroke="#c8143c" stroke-width="0.9" />
<line x1="55.19" y1="502.00" x2="59.39" y2="502.00" stroke="#c8143c" stroke-width="0.9" />
<line x1="55.19" y1="511.80" x2="59.39" y2="511.80" stroke="#c8143c" stroke-width="0.9" />
<line x1="63.52" y1="503.50" x2="63.52" y2="511.50" stroke="#c8143c" stroke-width="0.9" />
<line x1="61.42" y1="503.50" x2="65.62" y2="503.50" stroke="#c8143c" stroke-width="0.9" />
<line x1="61.42" y1="511.50" x2="65.62" y2="511.50" stroke="#c8143c" stroke-width="0.9" />
<line x1="69.75" y1="503.00" x2="69.75" y2="512.00" stroke="#c8143c" stroke-width="0.9" />
<line x1="67.65" y1="503.00" x2="71.85" y2="503.00" stroke="#c8143c" stroke-width="0.9" />
<line x1="67.65" y1="512.00" x2="71.85" y2="512.00" stroke="#c8143c" stroke-width="0.9" />
<line x1="75.98" y1="500.00" x2="75.98" y2="510.00" stroke="#c8143c" stroke-width="0.9" />
<line x1="73.88" y1="500.00" x2="78.08" y2="500.00" stroke="#c8143c" stroke-width="0.9" />
<line x1="73.88" y1="510.00" x2="78.08" y2="510.00" stroke="#c8143c" stroke-width="0.9" />
<line x1="82.21" y1="497.30" x2="82.21" y2="515.70" stroke="#c8143c" stroke-width="0.9" />
<line x1="80.11" y1="497.30" x2="84.31" y2="497.30" stroke="#c8143c" stroke-width="0.9" />
<line x1="80.11" y1="515.70" x2="84.31" y2="515.70" stroke="#c8143c" stroke-width="0.9" />
<line x1="88.44" y1="506.30" x2="88.44" y2="518.30" stroke="#c8143c" stroke-width="0.9" />
<line x1="86.34" y1="506.30" x2="90.54" y2="506.30" stroke="#c8143c" stroke-width="0.9" />
<line x1="86.34" y1="518.30" x2="90.54" y2="518.30" stroke="#c8143c" stroke-width="0.9" />
<line x1="94.67" y1="505.00" x2="94.67" y2="517.60" stroke="#c8143c" stroke-width="0.9" />
<line x1="92.57" y1="505.00" x2="96.77" y2="505.00" stroke="#c8143c" stroke-width="0.9" />
<line x1="92.57" y1="517.60" x2="96.77" y2="517.60" stroke="#c8143c" stroke-width="0.9" />
<line x1="100.90" y1="504.00" x2="100.90" y2="509.80" stroke="#c8143c" stroke-width="0.9" />
<line x1="98.80" y1="504.00" x2="103.00" y2="504.00" stroke="#c8143c" stroke-width="0.9" />
<line x1="98.80" y1="509.80" x2="103.00" y2="509.80" stroke="#c8143c" stroke-width="0.9" />
<line x1="107.13" y1="498.30" x2="107.13" y2="546.30" stroke="#c8143c" stroke-width="0.9" />
<line x1="105.03" y1="498.30" x2="109.23" y2="498.30" stroke="#c8143c" stroke-width="0.9" />
<line x1="105.03" y1="546.30" x2="109.23" y2="546.30" stroke="#c8143c" stroke-width="0.9" />
<line x1="113.36" y1="502.70" x2="113.36" y2="548.50" stroke="#c8143c" stroke-width="0.9" />
<line x1="111.26" y1="502.70" x2="115.46" y2="502.70" stroke="#c8143c" stroke-width="0.9" />
<line x1="111.26" y1="548.50" x2="115.46" y2="548.50" stroke="#c8143c" stroke-width="0.9" />
<line x1="132.05" y1="508.80" x2="132.05" y2="549.20" stroke="#c8143c" stroke-width="0.9" />
<line x1="129.95" y1="508.80" x2="134.15" y2="508.80" stroke="#c8143c" stroke-width="0.9" />
<line x1="129.95" y1="549.20" x2="134.15" y2="549.20" stroke="#c8143c" stroke-width="0.9" />
<polyline points="51.06,505.00 57.29,506.90 63.52,507.50 69.75,507.50 75.98,505.00 82.21,506.50 88.44,512.30 94.67,511.30 100.90,506.90 107.13,522.30 113.36,525.60 132.05,529.00" fill="none" stroke="#c8143c" stroke-width="1.0" stroke-linejoin="miter"/>
<rect x="49.06" y="503.00" width="4.00" height="4.00" fill="#c8143c"/>
<rect x="55.29" y="504.90" width="4.00" height="4.00" fill="#c8143c"/>
<rect x="61.52" y="505.50" width="4.00" height="4.00" fill="#c8143c"/>
<rect x="67.75" y="505.50" width="4.00" height="4.00" fill="#c8143c"/>
<rect x="73.98" y="503.00" width="4.00" height="4.00" fill="#c8143c"/>
<rect x="80.21" y="504.50" width="4.00" height="4.00" fill="#c8143c"/>
<rect x="86.44" y="510.30" width="4.00" height="4.00" fill="#c8143c"/>
<rect x="92.67" y="509.30" width="4.00" height="4.00" fill="#c8143c"/>
<rect x="98.90" y="504.90" width="4.00" height="4.00" fill="#c8143c"/>
<rect x="105.13" y="520.30" width="4.00" height="4.00" fill="#c8143c"/>
<rect x="111.36" y="523.60" width="4.00" height="4.00" fill="#c8143c"/>
<rect x="130.05" y="527.00" width="4.00" height="4.00" fill="#c8143c"/>
<line x1="51.06" y1="502.70" x2="51.06" y2="515.00" stroke="#1d426c" stroke-width="0.9" />
<line x1="48.96" y1="502.70" x2="53.16" y2="502.70" stroke="#1d426c" stroke-width="0.9" />
<line x1="48.96" y1="515.00" x2="53.16" y2="515.00" stroke="#1d426c" stroke-width="0.9" />
<line x1="57.29" y1="494.40" x2="57.29" y2="517.50" stroke="#1d426c" stroke-width="0.9" />
<line x1="55.19" y1="494.40" x2="59.39" y2="494.40" stroke="#1d426c" stroke-width="0.9" />
<line x1="55.19" y1="517.50" x2="59.39" y2="517.50" stroke="#1d426c" stroke-width="0.9" />
<line x1="63.52" y1="497.00" x2="63.52" y2="508.00" stroke="#1d426c" stroke-width="0.9" />
<line x1="61.42" y1="497.00" x2="65.62" y2="497.00" stroke="#1d426c" stroke-width="0.9" />
<line x1="61.42" y1="508.00" x2="65.62" y2="508.00" stroke="#1d426c" stroke-width="0.9" />
<line x1="69.75" y1="504.00" x2="69.75" y2="514.40" stroke="#1d426c" stroke-width="0.9" />
<line x1="67.65" y1="504.00" x2="71.85" y2="504.00" stroke="#1d426c" stroke-width="0.9" />
<line x1="67.65" y1="514.40" x2="71.85" y2="514.40" stroke="#1d426c" stroke-width="0.9" />
<line x1="75.98" y1="503.50" x2="75.98" y2="533.50" stroke="#1d426c" stroke-width="0.9" />
<line x1="73.88" y1="503.50" x2="78.08" y2="503.50" stroke="#1d426c" stroke-width="0.9" />
<line x1="73.88" y1="533.50" x2="78.08" y2="533.50" stroke="#1d426c" stroke-width="0.9" />
<line x1="82.21" y1="509.30" x2="82.21" y2="552.70" stroke="#1d426c" stroke-width="0.9" />
<line x1="80.11" y1="509.30" x2="84.31" y2="509.30" stroke="#1d426c" stroke-width="0.9" />
<line x1="80.11" y1="552.70" x2="84.31" y2="552.70" stroke="#1d426c" stroke-width="0.9" />
<line x1="88.44" y1="513.80" x2="88.44" y2="549.20" stroke="#1d426c" stroke-width="0.9" />
<line x1="86.34" y1="513.80" x2="90.54" y2="513.80" stroke="#1d426c" stroke-width="0.9" />
<line x1="86.34" y1="549.20" x2="90.54" y2="549.20" stroke="#1d426c" stroke-width="0.9" />
<line x1="94.67" y1="498.90" x2="94.67" y2="553.50" stroke="#1d426c" stroke-width="0.9" />
<line x1="92.57" y1="498.90" x2="96.77" y2="498.90" stroke="#1d426c" stroke-width="0.9" />
<line x1="92.57" y1="553.50" x2="96.77" y2="553.50" stroke="#1d426c" stroke-width="0.9" />
<line x1="100.90" y1="512.80" x2="100.90" y2="553.00" stroke="#1d426c" stroke-width="0.9" />
<line x1="98.80" y1="512.80" x2="103.00" y2="512.80" stroke="#1d426c" stroke-width="0.9" />
<line x1="98.80" y1="553.00" x2="103.00" y2="553.00" stroke="#1d426c" stroke-width="0.9" />
<line x1="107.13" y1="519.40" x2="107.13" y2="540.60" stroke="#1d426c" stroke-width="0.9" />
<line x1="105.03" y1="519.40" x2="109.23" y2="519.40" stroke="#1d426c" stroke-width="0.9" />
<line x1="105.03" y1="540.60" x2="109.23" y2="540.60" stroke="#1d426c" stroke-width="0.9" />
<line x1="113.36" y1="514.60" x2="113.36" y2="556.00" stroke="#1d426c" stroke-width="0.9" />
<line x1="111.26" y1="514.60" x2="115.46" y2="514.60" stroke="#1d426c" stroke-width="0.9" />
<line x1="111.26" y1="556.00" x2="115.46" y2="556.00" stroke="#1d426c" stroke-width="0.9" />
<polyline points="51.06,509.20 57.29,505.60 63.52,502.50 69.75,509.20 75.98,518.50 82.21,531.00 88.44,531.50 94.67,526.20 100.90,532.90 107.13,530.00 113.36,535.40" fill="none" stroke="#1d426c" stroke-width="1.0" stroke-linejoin="miter"/>
<circle cx="51.06" cy="509.20" r="1.90" fill="#1d426c"/>
<circle cx="57.29" cy="505.60" r="1.90" fill="#1d426c"/>
<circle cx="63.52" cy="502.50" r="1.90" fill="#1d426c"/>
<circle cx="69.75" cy="509.20" r="1.90" fill="#1d426c"/>
<circle cx="75.98" cy="518.50" r="1.90" fill="#1d426c"/>
<circle cx="82.21" cy="531.00" r="1.90" fill="#1d426c"/>
<circle cx="88.44" cy="531.50" r="1.90" fill="#1d426c"/>
<circle cx="94.67" cy="526.20" r="1.90" fill="#1d426c"/>
<circle cx="100.90" cy="532.90" r="1.90" fill="#1d426c"/>
<circle cx="107.13" cy="530.00" r="1.90" fill="#1d426c"/>
<circle cx="113.36" cy="535.40" r="1.90" fill="#1d426c"/>
<line x1="187.9" y1="519.5" x2="198.9" y2="519.5" stroke="#1d426c" stroke-width="1" />
<circle cx="193.40" cy="519.50" r="1.90" fill="#1d426c"/>
<text x="202.70000000000002" y="522.1" font-size="7.25" text-anchor="start" fill="#1e1e1e" font-weight="normal" stroke="#1e1e1e" stroke-width="0.3"  style="">Vehicle</text>
<line x1="187.9" y1="531.9" x2="198.9" y2="531.9" stroke="#c8143c" stroke-width="1" />
<rect x="191.40" y="529.90" width="4.00" height="4.00" fill="#c8143c"/>
<text x="202.70000000000002" y="534.5" font-size="7.25" text-anchor="start" fill="#1e1e1e" font-weight="normal" stroke="#1e1e1e" stroke-width="0.3"  style="">Gilteritinib</text>
<line x1="187.9" y1="544" x2="198.9" y2="544" stroke="#46a046" stroke-width="1" />
<polygon points="193.40,541.90 195.50,545.68 191.30,545.68" fill="#46a046"/>
<text x="202.70000000000002" y="546.6" font-size="7.25" text-anchor="start" fill="#1e1e1e" font-weight="normal" stroke="#1e1e1e" stroke-width="0.3"  style="">Pluripotin</text>
<line x1="304.4" y1="479.5" x2="304.4" y2="586.3" stroke="#1a1a1a" stroke-width="1.1" />
<line x1="301.2" y1="585.8" x2="304.4" y2="585.8" stroke="#1a1a1a" stroke-width="1" />
<text x="298.79999999999995" y="588.5999999999999" font-size="8.5" text-anchor="end" fill="#1e1e1e" font-weight="normal" stroke="#1e1e1e" stroke-width="0.08"  style="">0</text>
<line x1="301.2" y1="551.1999999999999" x2="304.4" y2="551.1999999999999" stroke="#1a1a1a" stroke-width="1" />
<text x="298.79999999999995" y="553.9999999999999" font-size="8.5" text-anchor="end" fill="#1e1e1e" font-weight="normal" stroke="#1e1e1e" stroke-width="0.08"  style="">500</text>
<line x1="301.2" y1="516.5999999999999" x2="304.4" y2="516.5999999999999" stroke="#1a1a1a" stroke-width="1" />
<text x="298.79999999999995" y="519.3999999999999" font-size="8.5" text-anchor="end" fill="#1e1e1e" font-weight="normal" stroke="#1e1e1e" stroke-width="0.08"  style="">1000</text>
<line x1="301.2" y1="481.99999999999994" x2="304.4" y2="481.99999999999994" stroke="#1a1a1a" stroke-width="1" />
<text x="298.79999999999995" y="484.79999999999995" font-size="8.5" text-anchor="end" fill="#1e1e1e" font-weight="normal" stroke="#1e1e1e" stroke-width="0.08"  style="">1500</text>
<line x1="303.9" y1="585.8" x2="462.9" y2="585.8" stroke="#1a1a1a" stroke-width="1.1" />
<line x1="304.5" y1="585.8" x2="304.5" y2="588.4" stroke="#1a1a1a" stroke-width="1" />
<text x="304.5" y="599.0" font-size="8.5" text-anchor="middle" fill="#1e1e1e" font-weight="normal" stroke="#1e1e1e" stroke-width="0.08"  style="">0</text>
<line x1="335.6" y1="585.8" x2="335.6" y2="588.4" stroke="#1a1a1a" stroke-width="1" />
<text x="335.6" y="599.0" font-size="8.5" text-anchor="middle" fill="#1e1e1e" font-weight="normal" stroke="#1e1e1e" stroke-width="0.08"  style="">5</text>
<line x1="366.7" y1="585.8" x2="366.7" y2="588.4" stroke="#1a1a1a" stroke-width="1" />
<text x="366.7" y="599.0" font-size="8.5" text-anchor="middle" fill="#1e1e1e" font-weight="normal" stroke="#1e1e1e" stroke-width="0.08"  style="">10</text>
<line x1="397.8" y1="585.8" x2="397.8" y2="588.4" stroke="#1a1a1a" stroke-width="1" />
<text x="397.8" y="599.0" font-size="8.5" text-anchor="middle" fill="#1e1e1e" font-weight="normal" stroke="#1e1e1e" stroke-width="0.08"  style="">15</text>
<line x1="428.9" y1="585.8" x2="428.9" y2="588.4" stroke="#1a1a1a" stroke-width="1" />
<text x="428.9" y="599.0" font-size="8.5" text-anchor="middle" fill="#1e1e1e" font-weight="normal" stroke="#1e1e1e" stroke-width="0.08"  style="">20</text>
<line x1="460.0" y1="585.8" x2="460.0" y2="588.4" stroke="#1a1a1a" stroke-width="1" />
<text x="460.0" y="599.0" font-size="8.5" text-anchor="middle" fill="#1e1e1e" font-weight="normal" stroke="#1e1e1e" stroke-width="0.08"  style="">25</text>
<text transform="translate(274.6,532.0) rotate(-90)" x="0" y="0" font-size="9.3" text-anchor="middle" fill="#1e1e1e" font-weight="bold" stroke="#1e1e1e" stroke-width="0.2" textLength="26" lengthAdjust="spacingAndGlyphs">Platelets</text>
<text x="383.5" y="613.0" font-size="9.3" text-anchor="middle" fill="#1e1e1e" font-weight="bold" textLength="20" lengthAdjust="spacingAndGlyphs"  style="">Weeks</text>
<line x1="316.94" y1="552.00" x2="316.94" y2="560.00" stroke="#46a046" stroke-width="0.9" />
<line x1="314.84" y1="552.00" x2="319.04" y2="552.00" stroke="#46a046" stroke-width="0.9" />
<line x1="314.84" y1="560.00" x2="319.04" y2="560.00" stroke="#46a046" stroke-width="0.9" />
<line x1="323.16" y1="545.70" x2="323.16" y2="562.30" stroke="#46a046" stroke-width="0.9" />
<line x1="321.06" y1="545.70" x2="325.26" y2="545.70" stroke="#46a046" stroke-width="0.9" />
<line x1="321.06" y1="562.30" x2="325.26" y2="562.30" stroke="#46a046" stroke-width="0.9" />
<line x1="329.38" y1="540.00" x2="329.38" y2="551.00" stroke="#46a046" stroke-width="0.9" />
<line x1="327.28" y1="540.00" x2="331.48" y2="540.00" stroke="#46a046" stroke-width="0.9" />
<line x1="327.28" y1="551.00" x2="331.48" y2="551.00" stroke="#46a046" stroke-width="0.9" />
<line x1="335.60" y1="534.00" x2="335.60" y2="542.60" stroke="#46a046" stroke-width="0.9" />
<line x1="333.50" y1="534.00" x2="337.70" y2="534.00" stroke="#46a046" stroke-width="0.9" />
<line x1="333.50" y1="542.60" x2="337.70" y2="542.60" stroke="#46a046" stroke-width="0.9" />
<line x1="341.82" y1="523.30" x2="341.82" y2="540.70" stroke="#46a046" stroke-width="0.9" />
<line x1="339.72" y1="523.30" x2="343.92" y2="523.30" stroke="#46a046" stroke-width="0.9" />
<line x1="339.72" y1="540.70" x2="343.92" y2="540.70" stroke="#46a046" stroke-width="0.9" />
<line x1="348.04" y1="530.00" x2="348.04" y2="543.40" stroke="#46a046" stroke-width="0.9" />
<line x1="345.94" y1="530.00" x2="350.14" y2="530.00" stroke="#46a046" stroke-width="0.9" />
<line x1="345.94" y1="543.40" x2="350.14" y2="543.40" stroke="#46a046" stroke-width="0.9" />
<line x1="354.26" y1="512.70" x2="354.26" y2="532.70" stroke="#46a046" stroke-width="0.9" />
<line x1="352.16" y1="512.70" x2="356.36" y2="512.70" stroke="#46a046" stroke-width="0.9" />
<line x1="352.16" y1="532.70" x2="356.36" y2="532.70" stroke="#46a046" stroke-width="0.9" />
<line x1="360.48" y1="516.20" x2="360.48" y2="538.00" stroke="#46a046" stroke-width="0.9" />
<line x1="358.38" y1="516.20" x2="362.58" y2="516.20" stroke="#46a046" stroke-width="0.9" />
<line x1="358.38" y1="538.00" x2="362.58" y2="538.00" stroke="#46a046" stroke-width="0.9" />
<line x1="366.70" y1="528.00" x2="366.70" y2="541.60" stroke="#46a046" stroke-width="0.9" />
<line x1="364.60" y1="528.00" x2="368.80" y2="528.00" stroke="#46a046" stroke-width="0.9" />
<line x1="364.60" y1="541.60" x2="368.80" y2="541.60" stroke="#46a046" stroke-width="0.9" />
<line x1="372.92" y1="530.00" x2="372.92" y2="548.40" stroke="#46a046" stroke-width="0.9" />
<line x1="370.82" y1="530.00" x2="375.02" y2="530.00" stroke="#46a046" stroke-width="0.9" />
<line x1="370.82" y1="548.40" x2="375.02" y2="548.40" stroke="#46a046" stroke-width="0.9" />
<line x1="379.14" y1="488.10" x2="379.14" y2="532.70" stroke="#46a046" stroke-width="0.9" />
<line x1="377.04" y1="488.10" x2="381.24" y2="488.10" stroke="#46a046" stroke-width="0.9" />
<line x1="377.04" y1="532.70" x2="381.24" y2="532.70" stroke="#46a046" stroke-width="0.9" />
<line x1="397.80" y1="504.60" x2="397.80" y2="541.20" stroke="#46a046" stroke-width="0.9" />
<line x1="395.70" y1="504.60" x2="399.90" y2="504.60" stroke="#46a046" stroke-width="0.9" />
<line x1="395.70" y1="541.20" x2="399.90" y2="541.20" stroke="#46a046" stroke-width="0.9" />
<line x1="441.34" y1="505.60" x2="441.34" y2="551.40" stroke="#46a046" stroke-width="0.9" />
<line x1="439.24" y1="505.60" x2="443.44" y2="505.60" stroke="#46a046" stroke-width="0.9" />
<line x1="439.24" y1="551.40" x2="443.44" y2="551.40" stroke="#46a046" stroke-width="0.9" />
<polyline points="316.94,556.00 323.16,554.00 329.38,545.40 335.60,538.30 341.82,532.00 348.04,536.70 354.26,522.70 360.48,527.10 366.70,534.80 372.92,539.20 379.14,510.40 397.80,523.30 441.34,529.30" fill="none" stroke="#46a046" stroke-width="1.0" stroke-linejoin="miter"/>
<polygon points="316.94,553.90 319.04,557.68 314.84,557.68" fill="#46a046"/>
<polygon points="323.16,551.90 325.26,555.68 321.06,555.68" fill="#46a046"/>
<polygon points="329.38,543.30 331.48,547.08 327.28,547.08" fill="#46a046"/>
<polygon points="335.60,536.20 337.70,539.98 333.50,539.98" fill="#46a046"/>
<polygon points="341.82,529.90 343.92,533.68 339.72,533.68" fill="#46a046"/>
<polygon points="348.04,534.60 350.14,538.38 345.94,538.38" fill="#46a046"/>
<polygon points="354.26,520.60 356.36,524.38 352.16,524.38" fill="#46a046"/>
<polygon points="360.48,525.00 362.58,528.78 358.38,528.78" fill="#46a046"/>
<polygon points="366.70,532.70 368.80,536.48 364.60,536.48" fill="#46a046"/>
<polygon points="372.92,537.10 375.02,540.88 370.82,540.88" fill="#46a046"/>
<polygon points="379.14,508.30 381.24,512.08 377.04,512.08" fill="#46a046"/>
<polygon points="397.80,521.20 399.90,524.98 395.70,524.98" fill="#46a046"/>
<polygon points="441.34,527.20 443.44,530.98 439.24,530.98" fill="#46a046"/>
<line x1="316.94" y1="559.80" x2="316.94" y2="571.00" stroke="#c8143c" stroke-width="0.9" />
<line x1="314.84" y1="559.80" x2="319.04" y2="559.80" stroke="#c8143c" stroke-width="0.9" />
<line x1="314.84" y1="571.00" x2="319.04" y2="571.00" stroke="#c8143c" stroke-width="0.9" />
<line x1="323.16" y1="548.30" x2="323.16" y2="556.90" stroke="#c8143c" stroke-width="0.9" />
<line x1="321.06" y1="548.30" x2="325.26" y2="548.30" stroke="#c8143c" stroke-width="0.9" />
<line x1="321.06" y1="556.90" x2="325.26" y2="556.90" stroke="#c8143c" stroke-width="0.9" />
<line x1="329.38" y1="535.80" x2="329.38" y2="542.20" stroke="#c8143c" stroke-width="0.9" />
<line x1="327.28" y1="535.80" x2="331.48" y2="535.80" stroke="#c8143c" stroke-width="0.9" />
<line x1="327.28" y1="542.20" x2="331.48" y2="542.20" stroke="#c8143c" stroke-width="0.9" />
<line x1="335.60" y1="538.00" x2="335.60" y2="545.80" stroke="#c8143c" stroke-width="0.9" />
<line x1="333.50" y1="538.00" x2="337.70" y2="538.00" stroke="#c8143c" stroke-width="0.9" />
<line x1="333.50" y1="545.80" x2="337.70" y2="545.80" stroke="#c8143c" stroke-width="0.9" />
<line x1="341.82" y1="537.00" x2="341.82" y2="546.00" stroke="#c8143c" stroke-width="0.9" />
<line x1="339.72" y1="537.00" x2="343.92" y2="537.00" stroke="#c8143c" stroke-width="0.9" />
<line x1="339.72" y1="546.00" x2="343.92" y2="546.00" stroke="#c8143c" stroke-width="0.9" />
<line x1="348.04" y1="535.00" x2="348.04" y2="545.00" stroke="#c8143c" stroke-width="0.9" />
<line x1="345.94" y1="535.00" x2="350.14" y2="535.00" stroke="#c8143c" stroke-width="0.9" />
<line x1="345.94" y1="545.00" x2="350.14" y2="545.00" stroke="#c8143c" stroke-width="0.9" />
<line x1="354.26" y1="527.00" x2="354.26" y2="537.60" stroke="#c8143c" stroke-width="0.9" />
<line x1="352.16" y1="527.00" x2="356.36" y2="527.00" stroke="#c8143c" stroke-width="0.9" />
<line x1="352.16" y1="537.60" x2="356.36" y2="537.60" stroke="#c8143c" stroke-width="0.9" />
<line x1="360.48" y1="526.00" x2="360.48" y2="537.00" stroke="#c8143c" stroke-width="0.9" />
<line x1="358.38" y1="526.00" x2="362.58" y2="526.00" stroke="#c8143c" stroke-width="0.9" />
<line x1="358.38" y1="537.00" x2="362.58" y2="537.00" stroke="#c8143c" stroke-width="0.9" />
<line x1="366.70" y1="525.00" x2="366.70" y2="533.80" stroke="#c8143c" stroke-width="0.9" />
<line x1="364.60" y1="525.00" x2="368.80" y2="525.00" stroke="#c8143c" stroke-width="0.9" />
<line x1="364.60" y1="533.80" x2="368.80" y2="533.80" stroke="#c8143c" stroke-width="0.9" />
<line x1="372.92" y1="497.70" x2="372.92" y2="543.50" stroke="#c8143c" stroke-width="0.9" />
<line x1="370.82" y1="497.70" x2="375.02" y2="497.70" stroke="#c8143c" stroke-width="0.9" />
<line x1="370.82" y1="543.50" x2="375.02" y2="543.50" stroke="#c8143c" stroke-width="0.9" />
<line x1="379.14" y1="505.60" x2="379.14" y2="542.10" stroke="#c8143c" stroke-width="0.9" />
<line x1="377.04" y1="505.60" x2="381.24" y2="505.60" stroke="#c8143c" stroke-width="0.9" />
<line x1="377.04" y1="542.10" x2="381.24" y2="542.10" stroke="#c8143c" stroke-width="0.9" />
<line x1="397.80" y1="506.10" x2="397.80" y2="529.10" stroke="#c8143c" stroke-width="0.9" />
<line x1="395.70" y1="506.10" x2="399.90" y2="506.10" stroke="#c8143c" stroke-width="0.9" />
<line x1="395.70" y1="529.10" x2="399.90" y2="529.10" stroke="#c8143c" stroke-width="0.9" />
<polyline points="316.94,564.20 323.16,552.70 329.38,539.00 335.60,541.90 341.82,541.50 348.04,540.00 354.26,532.30 360.48,531.50 366.70,529.40 372.92,521.30 379.14,523.80 397.80,517.60" fill="none" stroke="#c8143c" stroke-width="1.0" stroke-linejoin="miter"/>
<rect x="314.94" y="562.20" width="4.00" height="4.00" fill="#c8143c"/>
<rect x="321.16" y="550.70" width="4.00" height="4.00" fill="#c8143c"/>
<rect x="327.38" y="537.00" width="4.00" height="4.00" fill="#c8143c"/>
<rect x="333.60" y="539.90" width="4.00" height="4.00" fill="#c8143c"/>
<rect x="339.82" y="539.50" width="4.00" height="4.00" fill="#c8143c"/>
<rect x="346.04" y="538.00" width="4.00" height="4.00" fill="#c8143c"/>
<rect x="352.26" y="530.30" width="4.00" height="4.00" fill="#c8143c"/>
<rect x="358.48" y="529.50" width="4.00" height="4.00" fill="#c8143c"/>
<rect x="364.70" y="527.40" width="4.00" height="4.00" fill="#c8143c"/>
<rect x="370.92" y="519.30" width="4.00" height="4.00" fill="#c8143c"/>
<rect x="377.14" y="521.80" width="4.00" height="4.00" fill="#c8143c"/>
<rect x="395.80" y="515.60" width="4.00" height="4.00" fill="#c8143c"/>
<line x1="316.94" y1="552.70" x2="316.94" y2="560.40" stroke="#1d426c" stroke-width="0.9" />
<line x1="314.84" y1="552.70" x2="319.04" y2="552.70" stroke="#1d426c" stroke-width="0.9" />
<line x1="314.84" y1="560.40" x2="319.04" y2="560.40" stroke="#1d426c" stroke-width="0.9" />
<line x1="323.16" y1="529.60" x2="323.16" y2="552.70" stroke="#1d426c" stroke-width="0.9" />
<line x1="321.06" y1="529.60" x2="325.26" y2="529.60" stroke="#1d426c" stroke-width="0.9" />
<line x1="321.06" y1="552.70" x2="325.26" y2="552.70" stroke="#1d426c" stroke-width="0.9" />
<line x1="329.38" y1="540.00" x2="329.38" y2="548.00" stroke="#1d426c" stroke-width="0.9" />
<line x1="327.28" y1="540.00" x2="331.48" y2="540.00" stroke="#1d426c" stroke-width="0.9" />
<line x1="327.28" y1="548.00" x2="331.48" y2="548.00" stroke="#1d426c" stroke-width="0.9" />
<line x1="335.60" y1="551.00" x2="335.60" y2="559.00" stroke="#1d426c" stroke-width="0.9" />
<line x1="333.50" y1="551.00" x2="337.70" y2="551.00" stroke="#1d426c" stroke-width="0.9" />
<line x1="333.50" y1="559.00" x2="337.70" y2="559.00" stroke="#1d426c" stroke-width="0.9" />
<line x1="341.82" y1="544.40" x2="341.82" y2="561.30" stroke="#1d426c" stroke-width="0.9" />
<line x1="339.72" y1="544.40" x2="343.92" y2="544.40" stroke="#1d426c" stroke-width="0.9" />
<line x1="339.72" y1="561.30" x2="343.92" y2="561.30" stroke="#1d426c" stroke-width="0.9" />
<line x1="348.04" y1="537.70" x2="348.04" y2="566.20" stroke="#1d426c" stroke-width="0.9" />
<line x1="345.94" y1="537.70" x2="350.14" y2="537.70" stroke="#1d426c" stroke-width="0.9" />
<line x1="345.94" y1="566.20" x2="350.14" y2="566.20" stroke="#1d426c" stroke-width="0.9" />
<line x1="354.26" y1="536.30" x2="354.26" y2="563.00" stroke="#1d426c" stroke-width="0.9" />
<line x1="352.16" y1="536.30" x2="356.36" y2="536.30" stroke="#1d426c" stroke-width="0.9" />
<line x1="352.16" y1="563.00" x2="356.36" y2="563.00" stroke="#1d426c" stroke-width="0.9" />
<line x1="360.48" y1="532.00" x2="360.48" y2="557.50" stroke="#1d426c" stroke-width="0.9" />
<line x1="358.38" y1="532.00" x2="362.58" y2="532.00" stroke="#1d426c" stroke-width="0.9" />
<line x1="358.38" y1="557.50" x2="362.58" y2="557.50" stroke="#1d426c" stroke-width="0.9" />
<line x1="366.70" y1="532.00" x2="366.70" y2="554.60" stroke="#1d426c" stroke-width="0.9" />
<line x1="364.60" y1="532.00" x2="368.80" y2="532.00" stroke="#1d426c" stroke-width="0.9" />
<line x1="364.60" y1="554.60" x2="368.80" y2="554.60" stroke="#1d426c" stroke-width="0.9" />
<line x1="372.92" y1="536.70" x2="372.92" y2="565.60" stroke="#1d426c" stroke-width="0.9" />
<line x1="370.82" y1="536.70" x2="375.02" y2="536.70" stroke="#1d426c" stroke-width="0.9" />
<line x1="370.82" y1="565.60" x2="375.02" y2="565.60" stroke="#1d426c" stroke-width="0.9" />
<line x1="379.14" y1="536.30" x2="379.14" y2="568.00" stroke="#1d426c" stroke-width="0.9" />
<line x1="377.04" y1="536.30" x2="381.24" y2="536.30" stroke="#1d426c" stroke-width="0.9" />
<line x1="377.04" y1="568.00" x2="381.24" y2="568.00" stroke="#1d426c" stroke-width="0.9" />
<polyline points="316.94,556.90 323.16,540.20 329.38,544.00 335.60,555.00 341.82,551.50 348.04,552.10 354.26,549.60 360.48,546.00 366.70,541.90 372.92,550.80 379.14,552.10" fill="none" stroke="#1d426c" stroke-width="1.0" stroke-linejoin="miter"/>
<circle cx="316.94" cy="556.90" r="1.90" fill="#1d426c"/>
<circle cx="323.16" cy="540.20" r="1.90" fill="#1d426c"/>
<circle cx="329.38" cy="544.00" r="1.90" fill="#1d426c"/>
<circle cx="335.60" cy="555.00" r="1.90" fill="#1d426c"/>
<circle cx="341.82" cy="551.50" r="1.90" fill="#1d426c"/>
<circle cx="348.04" cy="552.10" r="1.90" fill="#1d426c"/>
<circle cx="354.26" cy="549.60" r="1.90" fill="#1d426c"/>
<circle cx="360.48" cy="546.00" r="1.90" fill="#1d426c"/>
<circle cx="366.70" cy="541.90" r="1.90" fill="#1d426c"/>
<circle cx="372.92" cy="550.80" r="1.90" fill="#1d426c"/>
<circle cx="379.14" cy="552.10" r="1.90" fill="#1d426c"/>
<line x1="472" y1="519.6" x2="483" y2="519.6" stroke="#1d426c" stroke-width="1" />
<circle cx="477.50" cy="519.60" r="1.90" fill="#1d426c"/>
<text x="486.8" y="522.2" font-size="7.25" text-anchor="start" fill="#1e1e1e" font-weight="normal" stroke="#1e1e1e" stroke-width="0.3"  style="">Vehicle</text>
<line x1="472" y1="531.7" x2="483" y2="531.7" stroke="#c8143c" stroke-width="1" />
<rect x="475.50" y="529.70" width="4.00" height="4.00" fill="#c8143c"/>
<text x="486.8" y="534.3000000000001" font-size="7.25" text-anchor="start" fill="#1e1e1e" font-weight="normal" stroke="#1e1e1e" stroke-width="0.3"  style="">Gilteritinib</text>
<line x1="472" y1="544.1" x2="483" y2="544.1" stroke="#46a046" stroke-width="1" />
<polygon points="477.50,542.00 479.60,545.78 475.40,545.78" fill="#46a046"/>
<text x="486.8" y="546.7" font-size="7.25" text-anchor="start" fill="#1e1e1e" font-weight="normal" stroke="#1e1e1e" stroke-width="0.3"  style="">Pluripotin</text>
<g transform="translate(-161.6,0.8)"><path d="M181.5,45.8 C177,47.5 174,50 173,53.5 C172,57.5 174.5,61 179,61.6 C185,62.2 194,60.2 202.3,57" fill="none" stroke="#0d0d0d" stroke-width="1.7" stroke-linecap="round"/><path d="M180.5,45.5 C180,38 182,32 186,29 C190,26 195,25 200,25 C204,25 208,26.5 211,28.5 C211.5,26.5 213.5,25.5 215.5,25.6 C217.5,25.8 218.6,28 218.3,30.5 C220,32 221.5,33.5 222.5,35.5 C224.5,38 226.5,40 227.8,41.8 C227,43.6 225.5,45 223.5,45.6 C222.5,46.2 221.8,47 221.5,48 C222.4,48.8 222.8,49.8 222,50.6 C220,51 218,50.8 216.2,50.4 C215,49.8 214.2,49 213,48.6 C212,49.6 212,51 211.6,52 C210,52.6 207.5,52.2 206,51 C205.6,49.8 205,48.8 204,48.3 C202,49.5 200,51.5 199,53.6 C197,54.2 194.5,53.4 192.5,52.3 C193.5,51.5 194.5,50.9 195,50.2 C192,49.6 189,49 186,48 C183.5,47.3 181.8,46.5 180.5,45.5 Z" fill="#0d0d0d"/></g>
<circle cx="59.4" cy="39.6" r="0.7" fill="#666"/>
<g stroke="#cfcfcf" stroke-width="0.4"><line x1="62.5" y1="34.5" x2="68" y2="31.5"/><line x1="63" y1="36" x2="69" y2="35"/><line x1="63" y1="37.5" x2="69" y2="38.5"/></g>
<text x="35.6" y="42.2" font-size="5.8" text-anchor="middle" fill="#e6e6e6" textLength="18.6" lengthAdjust="spacingAndGlyphs">CD45.2</text>
<path d="M181.5,45.8 C177,47.5 174,50 173,53.5 C172,57.5 174.5,61 179,61.6 C185,62.2 194,60.2 202.3,57" fill="none" stroke="#c9bead" stroke-width="2.1" stroke-linecap="round"/><path d="M181.5,45.8 C177,47.5 174,50 173,53.5 C172,57.5 174.5,61 179,61.6 C185,62.2 194,60.2 202.3,57" fill="none" stroke="#d9cfc1" stroke-width="1.2" stroke-linecap="round"/>
<path d="M180.5,45.5 C180,38 182,32 186,29 C190,26 195,25 200,25 C204,25 208,26.5 211,28.5 C211.5,26.5 213.5,25.5 215.5,25.6 C217.5,25.8 218.6,28 218.3,30.5 C220,32 221.5,33.5 222.5,35.5 C224.5,38 226.5,40 227.8,41.8 C227,43.6 225.5,45 223.5,45.6 C222.5,46.2 221.8,47 221.5,48 C222.4,48.8 222.8,49.8 222,50.6 C220,51 218,50.8 216.2,50.4 C215,49.8 214.2,49 213,48.6 C212,49.6 212,51 211.6,52 C210,52.6 207.5,52.2 206,51 C205.6,49.8 205,48.8 204,48.3 C202,49.5 200,51.5 199,53.6 C197,54.2 194.5,53.4 192.5,52.3 C193.5,51.5 194.5,50.9 195,50.2 C192,49.6 189,49 186,48 C183.5,47.3 181.8,46.5 180.5,45.5 Z" fill="#d9cfc1" stroke="#cbbfae" stroke-width="0.5"/>
<circle cx="220.2" cy="39.3" r="0.85" fill="#2e2620"/>
<g stroke="#dcd6ce" stroke-width="0.4"><line x1="223.5" y1="34" x2="229" y2="31"/><line x1="224" y1="35.5" x2="230" y2="34.5"/><line x1="224" y1="37.5" x2="230" y2="38.5"/></g>
<text x="197.3" y="41.7" font-size="5.8" text-anchor="middle" fill="#4a4238" stroke="#4a4238" stroke-width="0.15" textLength="18.6" lengthAdjust="spacingAndGlyphs">CD45.1</text>
<polygon points="203.78,25.63 211.55,18.53 212.80,20.09 204.22,26.17" fill="#5e4a36"/>
<polygon points="211.13,18.81 214.86,15.15 216.12,14.97 217.25,16.37 216.81,17.57 212.44,20.44" fill="#e08a2a"/>
<polygon points="213.63,16.34 216.12,14.97 216.82,15.83 214.38,17.27" fill="#b0702a"/>
<line x1="155.84" y1="27.26" x2="158.96" y2="24.74" stroke="#505050" stroke-width="1.3" stroke-linecap="round"/>
<line x1="157.40" y1="26.00" x2="160.92" y2="30.36" stroke="#505050" stroke-width="1.1" stroke-linecap="round"/>
<line x1="159.13" y1="31.80" x2="162.71" y2="28.91" stroke="#505050" stroke-width="1.4" stroke-linecap="round"/>
<polygon points="160.07,31.30 166.85,39.70 168.62,40.46 169.17,40.02 168.80,38.13 162.02,29.73" fill="#f6f6f6" stroke="#505050" stroke-width="0.75"/>
<line x1="168.90" y1="40.24" x2="172.90" y2="45.20" stroke="#606060" stroke-width="0.7" stroke-linecap="round"/>
<line x1="113.2" y1="43.4" x2="123" y2="32.4" stroke="#7a7862" stroke-width="2.9" stroke-linecap="round"/>
<ellipse cx="126" cy="30.4" rx="4.4" ry="2.8" transform="rotate(-40 126 30.4)" fill="#efeddf" stroke="#7a7862" stroke-width="0.8"/>
<line x1="113.4" y1="43.1" x2="123.6" y2="31.8" stroke="#efeddf" stroke-width="1.3" stroke-linecap="round"/>
<circle cx="106.1" cy="44.6" r="1.55" fill="#a08a72"/>
<circle cx="103" cy="49.6" r="1.55" fill="#d2b07c"/>
<circle cx="108.8" cy="49.6" r="1.55" fill="#b49a7c"/>
<circle cx="113.3" cy="49.6" r="1.55" fill="#c29a70"/>
<circle cx="106.1" cy="54.3" r="1.55" fill="#a89078"/>
<circle cx="111.7" cy="54.3" r="1.55" fill="#c4aa84"/>
<circle cx="146.5" cy="60.5" r="1.3" fill="#c9a070"/>
<circle cx="151" cy="59.3" r="1.3" fill="#b39878"/>
<circle cx="155.5" cy="61.2" r="1.3" fill="#d8b27c"/>
<circle cx="144.5" cy="64.6" r="1.3" fill="#e0bd88"/>
<circle cx="149" cy="63.2" r="1.3" fill="#e0bd88"/>
<circle cx="153.5" cy="64.3" r="1.3" fill="#c9a070"/>
<circle cx="158.2" cy="63.8" r="1.3" fill="#d8b27c"/>
<circle cx="146.8" cy="68.2" r="1.3" fill="#d8b27c"/>
<circle cx="151.3" cy="67" r="1.3" fill="#d8b27c"/>
<circle cx="155.8" cy="68.4" r="1.3" fill="#e0bd88"/>
<circle cx="150.6" cy="70.6" r="1.3" fill="#a89078"/>
<circle cx="143.7" cy="67.3" r="1.3" fill="#b39878"/>
<circle cx="158.7" cy="60.3" r="1.3" fill="#d8b27c"/>
<line x1="73.4" y1="43.6" x2="90.9" y2="43.6" stroke="#111" stroke-width="1.1"/>
<path d="M85.5,40.4 L92.9,43.6 L85.5,46.800000000000004 L87.1,43.6 Z" fill="#111"/>
<line x1="128" y1="42.0" x2="157.2" y2="42.0" stroke="#111" stroke-width="1.1"/>
<path d="M151.79999999999998,38.8 L159.2,42.0 L151.79999999999998,45.2 L153.39999999999998,42.0 Z" fill="#111"/>
<line x1="231.9" y1="43.3" x2="273" y2="43.3" stroke="#111" stroke-width="1.1"/>
<path d="M267.6,40.099999999999994 L275,43.3 L267.6,46.5 L269.20000000000005,43.3 Z" fill="#111"/>
<line x1="335.2" y1="43.1" x2="372.2" y2="43.1" stroke="#111" stroke-width="1.1"/>
<path d="M366.8,39.9 L374.2,43.1 L366.8,46.300000000000004 L368.40000000000003,43.1 Z" fill="#111"/>
<line x1="148.5" y1="56.2" x2="148.5" y2="47" stroke="#111" stroke-width="1.1"/>
<path d="M145.5,51.4 L148.5,44.6 L151.5,51.4 L148.5,49.8 Z" fill="#111"/>
<text x="254.2" y="38.5" font-size="8.5" text-anchor="middle" fill="#1e1e1e" font-weight="normal" textLength="29.2" lengthAdjust="spacingAndGlyphs" stroke="#1e1e1e" stroke-width="0.3"  style="">2 weeks</text>
<text x="306.5" y="37.9" font-size="8.6" text-anchor="middle" fill="#1e1e1e" font-weight="normal" textLength="55.4" lengthAdjust="spacingAndGlyphs" stroke="#1e1e1e" stroke-width="0.3"  style="">Deletion of Tet2</text>
<text x="306.2" y="47.6" font-size="8.6" text-anchor="middle" fill="#1e1e1e" font-weight="normal" textLength="43.6" lengthAdjust="spacingAndGlyphs" stroke="#1e1e1e" stroke-width="0.3"  style="">by tamoxifen</text>
<text x="306.5" y="57.2" font-size="8.6" text-anchor="middle" fill="#1e1e1e" font-weight="normal" textLength="29" lengthAdjust="spacingAndGlyphs" stroke="#1e1e1e" stroke-width="0.3"  style="">injection</text>
<text x="423.5" y="35.8" font-size="8.6" text-anchor="middle" fill="#1e1e1e" font-weight="normal" textLength="93.3" lengthAdjust="spacingAndGlyphs" stroke="#1e1e1e" stroke-width="0.3"  style="">Drug treatment and weekly</text>
<text x="423.5" y="46.1" font-size="8.6" text-anchor="middle" fill="#1e1e1e" font-weight="normal" textLength="68.6" lengthAdjust="spacingAndGlyphs" stroke="#1e1e1e" stroke-width="0.3"  style="">analysis of leukemic</text>
<text x="423.6" y="55.7" font-size="8.6" text-anchor="middle" fill="#1e1e1e" font-weight="normal" textLength="74.8" lengthAdjust="spacingAndGlyphs" stroke="#1e1e1e" stroke-width="0.3"  style="">progerssion by FACS</text>
<text x="423.5" y="65.6" font-size="8.6" text-anchor="middle" fill="#1e1e1e" font-weight="normal" textLength="47" lengthAdjust="spacingAndGlyphs" stroke="#1e1e1e" stroke-width="0.3"  style="">and Hemavet</text>
<text x="153.9" y="89.0" font-size="8.5" text-anchor="middle" fill="#1e1e1e" font-weight="normal" textLength="45.5" lengthAdjust="spacingAndGlyphs" stroke="#1e1e1e" stroke-width="0.3"  style="">WT BM cells</text>
<text x="153.7" y="99.0" font-size="8.5" text-anchor="middle" fill="#1e1e1e" font-weight="normal" textLength="47.6" lengthAdjust="spacingAndGlyphs" stroke="#1e1e1e" stroke-width="0.3"  style="">from the BoyJ</text>
<text x="154.2" y="108.6" font-size="8.5" text-anchor="middle" fill="#1e1e1e" font-weight="normal" textLength="51.9" lengthAdjust="spacingAndGlyphs" stroke="#1e1e1e" stroke-width="0.3"  style="">mice (CD45.1)</text>
<text x="12.2" y="85.8" font-size="8.4" font-style="italic" fill="#1e1e1e" stroke="#1e1e1e" stroke-width="0.18">Flt3<tspan font-size="5.6" dy="-3.6">ITD/ITD</tspan><tspan font-size="8.4" dy="3.6">/Tet2</tspan><tspan font-size="5.6" dy="-3.6">-/-</tspan></text>
</svg>
</body></html>
